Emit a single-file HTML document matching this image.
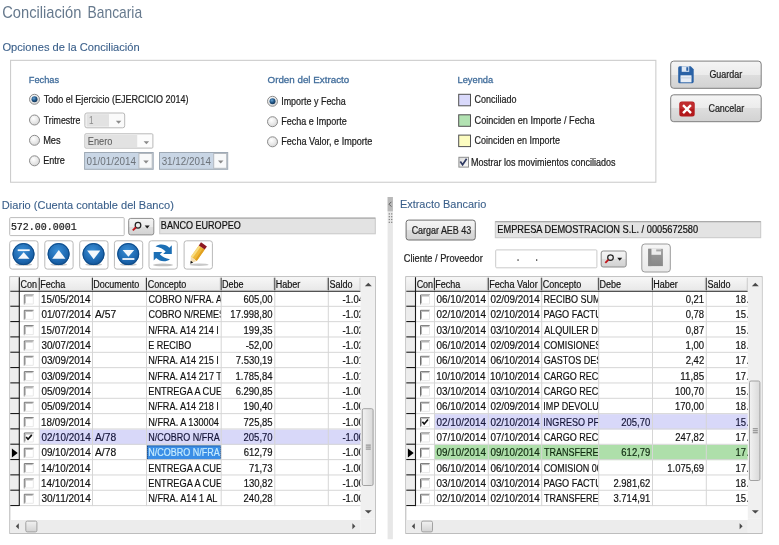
<!DOCTYPE html>
<html><head><meta charset="utf-8"><title>Conciliación Bancaria</title>
<style>html,body{margin:0;padding:0;background:#fff;width:779px;height:545px;overflow:hidden}svg{display:block;will-change:transform;font-family:"Liberation Sans",sans-serif}</style></head><body>
<svg width="779" height="545" viewBox="0 0 779 545">
<defs>
<radialGradient id="rg" cx="0.4" cy="0.35" r="0.75"><stop offset="0" stop-color="#ffffff"/><stop offset="0.6" stop-color="#e6e6e6"/><stop offset="1" stop-color="#cfcfcf"/></radialGradient>
<radialGradient id="rs" cx="0.4" cy="0.35" r="0.7"><stop offset="0" stop-color="#6aa6d6"/><stop offset="0.5" stop-color="#23598a"/><stop offset="1" stop-color="#10304f"/></radialGradient>
<linearGradient id="cg" x1="0" y1="0" x2="1" y2="1"><stop offset="0" stop-color="#dcdcdc"/><stop offset="1" stop-color="#fbfbfb"/></linearGradient>
<linearGradient id="bg" x1="0" y1="0" x2="0" y2="1"><stop offset="0" stop-color="#f5f5f5"/><stop offset="0.5" stop-color="#ebebeb"/><stop offset="0.5" stop-color="#dedede"/><stop offset="1" stop-color="#d2d2d2"/></linearGradient>
<linearGradient id="bg2" x1="0" y1="0" x2="0" y2="1"><stop offset="0" stop-color="#f6f6f6"/><stop offset="1" stop-color="#e9e9e9"/></linearGradient>
<linearGradient id="hg" x1="0" y1="0" x2="0" y2="1"><stop offset="0" stop-color="#f7f7f7"/><stop offset="1" stop-color="#e8e8e8"/></linearGradient>
<linearGradient id="tg" x1="0" y1="0" x2="1" y2="0"><stop offset="0" stop-color="#f2f2f2"/><stop offset="1" stop-color="#d9d9d9"/></linearGradient>
<linearGradient id="tg2" x1="0" y1="0" x2="0" y2="1"><stop offset="0" stop-color="#f2f2f2"/><stop offset="1" stop-color="#d2d2d2"/></linearGradient>
<radialGradient id="nb" cx="0.45" cy="0.35" r="0.7"><stop offset="0" stop-color="#3a8fd6"/><stop offset="0.7" stop-color="#1b65ad"/><stop offset="1" stop-color="#114f8e"/></radialGradient>
<linearGradient id="fg" x1="0" y1="0" x2="0" y2="1"><stop offset="0" stop-color="#9c9c9c"/><stop offset="1" stop-color="#888888"/></linearGradient>
</defs>
<rect x="0" y="0" width="779" height="545" fill="#ffffff"/>
<text x="2.25" y="18.00" font-family="'Liberation Sans', sans-serif" font-size="15.99" fill="#66798d" textLength="79.20" lengthAdjust="spacingAndGlyphs">Conciliación</text>
<text x="87.57" y="18.00" font-family="'Liberation Sans', sans-serif" font-size="15.99" fill="#66798d" textLength="54.53" lengthAdjust="spacingAndGlyphs">Bancaria</text>
<text x="2.47" y="50.70" font-family="'Liberation Sans', sans-serif" font-size="10.76" fill="#3a5f8a" stroke="#3a5f8a" stroke-width="0.1" textLength="137.25" lengthAdjust="spacingAndGlyphs">Opciones de la Conciliación</text>
<rect x="10.55" y="60.35" width="645.30" height="121.90" fill="none" stroke="#cdcdcd" stroke-width="1.1"/>
<text x="28.84" y="83.00" font-family="'Liberation Sans', sans-serif" font-size="9.74" fill="#416d9b" stroke="#416d9b" stroke-width="0.3" textLength="30.29" lengthAdjust="spacingAndGlyphs">Fechas</text>
<circle cx="34.5" cy="99.3" r="5.0" fill="url(#rg)" stroke="#8d8d8d" stroke-width="1"/>
<circle cx="34.5" cy="99.3" r="3.0" fill="url(#rs)"/>
<circle cx="34.5" cy="120.0" r="5.0" fill="url(#rg)" stroke="#8d8d8d" stroke-width="1"/>
<circle cx="34.5" cy="140.3" r="5.0" fill="url(#rg)" stroke="#8d8d8d" stroke-width="1"/>
<circle cx="34.5" cy="160.8" r="5.0" fill="url(#rg)" stroke="#8d8d8d" stroke-width="1"/>
<text x="43.80" y="102.80" font-family="'Liberation Sans', sans-serif" font-size="10.90" fill="#1c1c1c" stroke="#1c1c1c" stroke-width="0.22" textLength="144.76" lengthAdjust="spacingAndGlyphs">Todo el Ejercicio (EJERCICIO 2014)</text>
<text x="43.70" y="123.50" font-family="'Liberation Sans', sans-serif" font-size="10.76" fill="#1c1c1c" stroke="#1c1c1c" stroke-width="0.22" textLength="36.68" lengthAdjust="spacingAndGlyphs">Trimestre</text>
<text x="43.14" y="143.60" font-family="'Liberation Sans', sans-serif" font-size="10.76" fill="#1c1c1c" stroke="#1c1c1c" stroke-width="0.22" textLength="17.49" lengthAdjust="spacingAndGlyphs">Mes</text>
<text x="43.15" y="163.80" font-family="'Liberation Sans', sans-serif" font-size="10.76" fill="#1c1c1c" stroke="#1c1c1c" stroke-width="0.22" textLength="21.75" lengthAdjust="spacingAndGlyphs">Entre</text>
<rect x="84.90" y="113.00" width="39.80" height="14.80" fill="#fafafa" stroke="#b8b8b8" stroke-width="1" rx="2"/>
<rect x="86.50" y="114.20" width="22.50" height="12.40" fill="#e2e2e2"/>
<text x="88.88" y="124.30" font-family="'Liberation Sans', sans-serif" font-size="11.05" fill="#8a8a8a" textLength="4.51" lengthAdjust="spacingAndGlyphs">1</text>
<path d="M115.85 120.70 L121.35 120.70 L118.60 123.70 Z" fill="#8a8a8a"/>
<rect x="84.90" y="133.80" width="68.00" height="14.30" fill="#fcfcfc" stroke="#b8b8b8" stroke-width="1" rx="1"/>
<rect x="86.00" y="135.00" width="51.20" height="12.00" fill="#e2e2e2"/>
<text x="87.74" y="144.60" font-family="'Liberation Sans', sans-serif" font-size="11.05" fill="#606060" stroke="#606060" stroke-width="0.1" textLength="24.65" lengthAdjust="spacingAndGlyphs">Enero</text>
<path d="M143.65 141.30 L149.15 141.30 L146.40 144.30 Z" fill="#8a8a8a"/>
<rect x="84.60" y="152.50" width="68.60" height="16.80" fill="#c9d6e5" stroke="#9ea9b5" stroke-width="1"/>
<rect x="138.90" y="153.50" width="13.30" height="14.80" fill="#f8f9fa" stroke="#b4b9bf" stroke-width="1"/>
<text x="86.61" y="164.80" font-family="'Liberation Sans', sans-serif" font-size="11.05" fill="#6c7279" textLength="49.48" lengthAdjust="spacingAndGlyphs">01/01/2014</text>
<path d="M143.30 160.50 L148.80 160.50 L146.05 163.50 Z" fill="#8a8a8a"/>
<rect x="159.50" y="152.50" width="68.20" height="16.80" fill="#c9d6e5" stroke="#9ea9b5" stroke-width="1"/>
<rect x="213.70" y="153.50" width="13.00" height="14.80" fill="#f8f9fa" stroke="#b4b9bf" stroke-width="1"/>
<text x="161.63" y="164.80" font-family="'Liberation Sans', sans-serif" font-size="11.05" fill="#6c7279" textLength="49.26" lengthAdjust="spacingAndGlyphs">31/12/2014</text>
<path d="M217.95 160.50 L223.45 160.50 L220.70 163.50 Z" fill="#8a8a8a"/>
<text x="267.54" y="82.70" font-family="'Liberation Sans', sans-serif" font-size="9.74" fill="#416d9b" stroke="#416d9b" stroke-width="0.3" textLength="81.68" lengthAdjust="spacingAndGlyphs">Orden del Extracto</text>
<circle cx="272.5" cy="101.3" r="5.0" fill="url(#rg)" stroke="#8d8d8d" stroke-width="1"/>
<circle cx="272.5" cy="101.3" r="3.0" fill="url(#rs)"/>
<circle cx="272.5" cy="121.7" r="5.0" fill="url(#rg)" stroke="#8d8d8d" stroke-width="1"/>
<circle cx="272.5" cy="141.8" r="5.0" fill="url(#rg)" stroke="#8d8d8d" stroke-width="1"/>
<text x="281.17" y="104.80" font-family="'Liberation Sans', sans-serif" font-size="10.76" fill="#1c1c1c" stroke="#1c1c1c" stroke-width="0.22" textLength="64.63" lengthAdjust="spacingAndGlyphs">Importe y Fecha</text>
<text x="281.26" y="124.80" font-family="'Liberation Sans', sans-serif" font-size="10.76" fill="#1c1c1c" stroke="#1c1c1c" stroke-width="0.22" textLength="65.64" lengthAdjust="spacingAndGlyphs">Fecha e Importe</text>
<text x="281.27" y="145.40" font-family="'Liberation Sans', sans-serif" font-size="10.76" fill="#1c1c1c" stroke="#1c1c1c" stroke-width="0.22" textLength="91.13" lengthAdjust="spacingAndGlyphs">Fecha Valor, e Importe</text>
<text x="457.54" y="82.80" font-family="'Liberation Sans', sans-serif" font-size="9.74" fill="#416d9b" stroke="#416d9b" stroke-width="0.3" textLength="35.66" lengthAdjust="spacingAndGlyphs">Leyenda</text>
<rect x="458.70" y="94.30" width="11.80" height="11.50" fill="#d9d9fb" stroke="#505050" stroke-width="1"/>
<rect x="458.70" y="114.80" width="11.80" height="11.50" fill="#b2e2b2" stroke="#505050" stroke-width="1"/>
<rect x="458.70" y="135.10" width="11.80" height="11.50" fill="#fcfcc0" stroke="#505050" stroke-width="1"/>
<text x="474.54" y="102.80" font-family="'Liberation Sans', sans-serif" font-size="10.76" fill="#1c1c1c" stroke="#1c1c1c" stroke-width="0.22" textLength="41.93" lengthAdjust="spacingAndGlyphs">Conciliado</text>
<text x="474.54" y="123.50" font-family="'Liberation Sans', sans-serif" font-size="10.76" fill="#1c1c1c" stroke="#1c1c1c" stroke-width="0.22" textLength="119.96" lengthAdjust="spacingAndGlyphs">Coinciden en Importe / Fecha</text>
<text x="474.54" y="143.50" font-family="'Liberation Sans', sans-serif" font-size="10.76" fill="#1c1c1c" stroke="#1c1c1c" stroke-width="0.22" textLength="85.46" lengthAdjust="spacingAndGlyphs">Coinciden en Importe</text>
<rect x="458.90" y="157.30" width="9.60" height="9.80" fill="url(#cg)" stroke="#8e8f8f" stroke-width="1"/>
<path d="M460.3 161.4 L462.6 164.8 L466.6 158.8" fill="none" stroke="#2f3a62" stroke-width="1.7"/>
<text x="471.06" y="165.70" font-family="'Liberation Sans', sans-serif" font-size="10.17" fill="#1c1c1c" stroke="#1c1c1c" stroke-width="0.22" textLength="144.56" lengthAdjust="spacingAndGlyphs">Mostrar los movimientos conciliados</text>
<rect x="670.70" y="61.10" width="90.50" height="27.20" fill="url(#bg)" stroke="#7e7e7e" stroke-width="1" rx="3"/>
<rect x="670.70" y="94.80" width="90.50" height="26.90" fill="url(#bg)" stroke="#7e7e7e" stroke-width="1" rx="3"/>
<g transform="translate(677.7,66.3)"><path d="M0.5 1.5 Q0.5 0 2 0 L13 0 L16 3 L16 15 Q16 17 14.5 17 L2 17 Q0.5 17 0.5 15.5 Z" fill="#2a62a6"/><rect x="4" y="0" width="7.5" height="5.5" fill="#dfe9f5"/><rect x="8.6" y="0.9" width="2" height="3.6" fill="#2a62a6"/><rect x="2.8" y="9" width="11" height="7" fill="#e8eef6"/><rect x="2.8" y="11.2" width="11" height="0.8" fill="#b9c8d8"/></g>
<text x="709.45" y="78.30" font-family="'Liberation Sans', sans-serif" font-size="10.17" fill="#1e1e1e" stroke="#1e1e1e" stroke-width="0.22" textLength="32.70" lengthAdjust="spacingAndGlyphs">Guardar</text>
<g transform="translate(679.3,101.6)"><rect x="0" y="0" width="15.4" height="15" rx="2.5" fill="#b3191c"/><rect x="0.5" y="0.5" width="14.4" height="7" rx="2" fill="#c8383a" opacity="0.6"/><path d="M4.6 4.4 L10.8 10.6 M10.8 4.4 L4.6 10.6" stroke="#ffffff" stroke-width="2.4" stroke-linecap="square"/></g>
<text x="708.45" y="112.00" font-family="'Liberation Sans', sans-serif" font-size="10.17" fill="#1e1e1e" stroke="#1e1e1e" stroke-width="0.22" textLength="35.70" lengthAdjust="spacingAndGlyphs">Cancelar</text>
<text x="1.89" y="208.60" font-family="'Liberation Sans', sans-serif" font-size="10.90" fill="#3a5f8a" stroke="#3a5f8a" stroke-width="0.1" textLength="171.99" lengthAdjust="spacingAndGlyphs">Diario (Cuenta contable del Banco)</text>
<rect x="9.70" y="217.60" width="114.50" height="18.00" fill="#ffffff" stroke="#bcbcbc" stroke-width="1" rx="1"/>
<text x="10.88" y="230.00" font-family="'Liberation Mono', monospace" font-size="10.48" fill="#1a1a1a" stroke="#1a1a1a" stroke-width="0.22" textLength="65.80" lengthAdjust="spacingAndGlyphs">572.00.0001</text>
<rect x="128.70" y="218.40" width="25.10" height="16.50" fill="url(#bg)" stroke="#8c8c8c" stroke-width="1" rx="2"/>
<circle cx="138.00" cy="225.25" r="2.8" fill="none" stroke="#222" stroke-width="1.25"/>
<path d="M136.00 227.25 L132.80 230.45" stroke="#c0141b" stroke-width="1.9"/>
<path d="M144.70 225.45 L149.70 225.45 L147.20 228.45 Z" fill="#1a1a1a"/>
<rect x="159.70" y="218.10" width="215.60" height="15.70" fill="#e3e3e3" stroke="#c8c8c8" stroke-width="1"/>
<line x1="159.70" y1="218.10" x2="375.30" y2="218.10" stroke="#a2a2a2" stroke-width="1"/>
<text x="160.86" y="228.50" font-family="'Liberation Sans', sans-serif" font-size="10.47" fill="#111111" stroke="#111111" stroke-width="0.22" textLength="79.87" lengthAdjust="spacingAndGlyphs">BANCO EUROPEO</text>
<rect x="9.70" y="240.80" width="28.30" height="28.30" fill="#ffffff" stroke="#b9b9b9" stroke-width="1" rx="2.5"/>
<ellipse cx="23.70" cy="264.40" rx="8.5" ry="1.4" fill="#9a9a9a" opacity="0.55"/>
<circle cx="23.50" cy="254.10" r="11.0" fill="url(#nb)"/>
<circle cx="23.50" cy="254.10" r="10.5" fill="none" stroke="#0e4a86" stroke-width="1"/>
<path d="M17.90 258.70 L29.50 258.70 L23.70 252.30 Z" fill="#f4f8fc"/>
<rect x="17.70" y="249.30" width="12" height="1.8" fill="#f4f8fc"/>
<rect x="44.80" y="240.80" width="28.30" height="28.30" fill="#ffffff" stroke="#b9b9b9" stroke-width="1" rx="2.5"/>
<ellipse cx="58.80" cy="264.40" rx="8.5" ry="1.4" fill="#9a9a9a" opacity="0.55"/>
<circle cx="58.60" cy="254.10" r="11.0" fill="url(#nb)"/>
<circle cx="58.60" cy="254.10" r="10.5" fill="none" stroke="#0e4a86" stroke-width="1"/>
<path d="M52.20 258.70 L65.40 258.70 L58.80 249.90 Z" fill="#f4f8fc"/>
<rect x="79.70" y="240.80" width="28.30" height="28.30" fill="#ffffff" stroke="#b9b9b9" stroke-width="1" rx="2.5"/>
<ellipse cx="93.70" cy="264.40" rx="8.5" ry="1.4" fill="#9a9a9a" opacity="0.55"/>
<circle cx="93.50" cy="254.10" r="11.0" fill="url(#nb)"/>
<circle cx="93.50" cy="254.10" r="10.5" fill="none" stroke="#0e4a86" stroke-width="1"/>
<path d="M87.10 250.50 L100.30 250.50 L93.70 259.30 Z" fill="#f4f8fc"/>
<rect x="114.40" y="240.80" width="28.30" height="28.30" fill="#ffffff" stroke="#b9b9b9" stroke-width="1" rx="2.5"/>
<ellipse cx="128.40" cy="264.40" rx="8.5" ry="1.4" fill="#9a9a9a" opacity="0.55"/>
<circle cx="128.20" cy="254.10" r="11.0" fill="url(#nb)"/>
<circle cx="128.20" cy="254.10" r="10.5" fill="none" stroke="#0e4a86" stroke-width="1"/>
<path d="M122.60 250.10 L134.20 250.10 L128.40 256.70 Z" fill="#f4f8fc"/>
<rect x="122.40" y="258.10" width="12" height="1.8" fill="#f4f8fc"/>
<rect x="149.00" y="240.80" width="28.30" height="28.30" fill="#ffffff" stroke="#b9b9b9" stroke-width="1" rx="2.5"/>
<ellipse cx="163.00" cy="264.90" rx="10" ry="1.4" fill="#9a9a9a" opacity="0.6"/>
<g transform="translate(162.75,252.9)" fill="#1c6fb5"><path d="M -7.2 -6.4 C -3 -9.6, 3 -8.8, 6.6 -5.2 L 9.05 -7.6 L 9.05 1.0 L 0.45 1.0 L 2.9 -1.4 C 0.5 -4.0, -3 -5.6, -7.2 -6.4 Z"/><path d="M -7.2 -6.4 C -3 -9.6, 3 -8.8, 6.6 -5.2 L 9.05 -7.6 L 9.05 1.0 L 0.45 1.0 L 2.9 -1.4 C 0.5 -4.0, -3 -5.6, -7.2 -6.4 Z" transform="rotate(180)"/></g>
<rect x="184.10" y="240.80" width="28.30" height="28.30" fill="#ffffff" stroke="#b9b9b9" stroke-width="1" rx="2.5"/>
<ellipse cx="199.10" cy="264.70" rx="9.5" ry="1.3" fill="#9a9a9a" opacity="0.55"/>
<g transform="translate(197.2,254.0) rotate(35)"><rect x="-3.6" y="-8" width="7.2" height="14" fill="#efb93a"/><rect x="-3.6" y="-8" width="2.2" height="14" fill="#f8dc80"/><rect x="1.6" y="-8" width="2" height="14" fill="#e0a020"/><rect x="-3.6" y="-11.8" width="7.2" height="3.8" fill="#8e1822"/><path d="M-3.6 6 L3.6 6 L0 11.6 Z" fill="#f3dcb0"/><path d="M-1.5 9.2 L1.5 9.2 L0 11.9 Z" fill="#111"/></g>
<rect x="387.60" y="197.00" width="5.30" height="342.20" fill="#e7e7e7"/>
<rect x="387.60" y="197.00" width="5.30" height="14.30" fill="#b9b9b9"/>
<path d="M391.4 201.8 L389.0 204.2 L391.4 206.6" fill="none" stroke="#555" stroke-width="0.9"/>
<rect x="388.70" y="213.30" width="1.20" height="1.20" fill="#7a7a7a"/>
<rect x="391.10" y="213.30" width="1.20" height="1.20" fill="#7a7a7a"/>
<rect x="388.70" y="216.10" width="1.20" height="1.20" fill="#7a7a7a"/>
<rect x="391.10" y="216.10" width="1.20" height="1.20" fill="#7a7a7a"/>
<rect x="388.70" y="218.90" width="1.20" height="1.20" fill="#7a7a7a"/>
<rect x="391.10" y="218.90" width="1.20" height="1.20" fill="#7a7a7a"/>
<rect x="388.70" y="221.70" width="1.20" height="1.20" fill="#7a7a7a"/>
<rect x="391.10" y="221.70" width="1.20" height="1.20" fill="#7a7a7a"/>
<text x="399.90" y="208.40" font-family="'Liberation Sans', sans-serif" font-size="10.90" fill="#3a5f8a" stroke="#3a5f8a" stroke-width="0.1" textLength="86.36" lengthAdjust="spacingAndGlyphs">Extracto Bancario</text>
<rect x="406.10" y="220.10" width="69.20" height="19.90" fill="url(#bg)" stroke="#6e6e6e" stroke-width="1" rx="2.5"/>
<text x="411.65" y="233.50" font-family="'Liberation Sans', sans-serif" font-size="10.03" fill="#1e1e1e" stroke="#1e1e1e" stroke-width="0.22" textLength="59.54" lengthAdjust="spacingAndGlyphs">Cargar AEB 43</text>
<rect x="495.30" y="221.70" width="265.40" height="16.00" fill="#e3e3e3" stroke="#c8c8c8" stroke-width="1"/>
<text x="497.34" y="232.90" font-family="'Liberation Sans', sans-serif" font-size="10.90" fill="#111111" stroke="#111111" stroke-width="0.22" textLength="200.82" lengthAdjust="spacingAndGlyphs">EMPRESA DEMOSTRACION S.L. / 0005672580</text>
<line x1="495.30" y1="221.70" x2="760.70" y2="221.70" stroke="#a2a2a2" stroke-width="1"/>
<text x="403.73" y="262.20" font-family="'Liberation Sans', sans-serif" font-size="10.47" fill="#1e1e1e" stroke="#1e1e1e" stroke-width="0.22" textLength="79.12" lengthAdjust="spacingAndGlyphs">Cliente / Proveedor</text>
<rect x="495.70" y="249.90" width="101.20" height="17.90" fill="#ffffff" stroke="#cacaca" stroke-width="1" rx="1"/>
<rect x="517.40" y="259.40" width="1.30" height="1.30" fill="#222"/>
<rect x="536.00" y="259.40" width="1.30" height="1.30" fill="#222"/>
<rect x="601.20" y="251.00" width="25.00" height="16.00" fill="url(#bg)" stroke="#8c8c8c" stroke-width="1" rx="2"/>
<circle cx="610.50" cy="257.60" r="2.8" fill="none" stroke="#222" stroke-width="1.25"/>
<path d="M608.50 259.60 L605.30 262.80" stroke="#c0141b" stroke-width="1.9"/>
<path d="M617.20 257.80 L622.20 257.80 L619.70 260.80 Z" fill="#1a1a1a"/>
<rect x="641.80" y="244.00" width="28.50" height="28.00" fill="url(#bg2)" stroke="#9a9a9a" stroke-width="1" rx="3"/>
<rect x="648.2" y="248.8" width="14.7" height="17.3" fill="url(#fg)"/>
<rect x="648.2" y="248.8" width="3.2" height="17.3" fill="#8a8a8a"/>
<rect x="651.5" y="248.8" width="9.6" height="6" fill="#ececec"/>
<rect x="656.2" y="249.4" width="5" height="2" fill="#a8a8a8"/>
<rect x="9.80" y="276.70" width="365.50" height="256.70" fill="#ffffff" stroke="#b6b6b6" stroke-width="1"/>
<rect x="10.30" y="277.20" width="350.30" height="13.40" fill="url(#hg)"/>
<rect x="10.30" y="290.60" width="9.00" height="215.52" fill="#ededed"/>
<rect x="39.30" y="429.47" width="321.30" height="15.33" fill="#d8d8f9"/>
<rect x="147.00" y="445.40" width="74.00" height="14.53" fill="#3a8ee6"/>
<rect x="147.50" y="445.90" width="73.10" height="13.63" fill="none" stroke="#102040" stroke-width="0.8" stroke-dasharray="1,1"/>
<line x1="19.30" y1="306.33" x2="360.60" y2="306.33" stroke="#d6d6d6" stroke-width="1"/>
<line x1="19.30" y1="321.66" x2="360.60" y2="321.66" stroke="#d6d6d6" stroke-width="1"/>
<line x1="19.30" y1="336.99" x2="360.60" y2="336.99" stroke="#d6d6d6" stroke-width="1"/>
<line x1="19.30" y1="352.32" x2="360.60" y2="352.32" stroke="#d6d6d6" stroke-width="1"/>
<line x1="19.30" y1="367.65" x2="360.60" y2="367.65" stroke="#d6d6d6" stroke-width="1"/>
<line x1="19.30" y1="382.98" x2="360.60" y2="382.98" stroke="#d6d6d6" stroke-width="1"/>
<line x1="19.30" y1="398.31" x2="360.60" y2="398.31" stroke="#d6d6d6" stroke-width="1"/>
<line x1="19.30" y1="413.64" x2="360.60" y2="413.64" stroke="#d6d6d6" stroke-width="1"/>
<line x1="19.30" y1="428.97" x2="360.60" y2="428.97" stroke="#d6d6d6" stroke-width="1"/>
<line x1="19.30" y1="444.30" x2="360.60" y2="444.30" stroke="#d6d6d6" stroke-width="1"/>
<line x1="19.30" y1="459.63" x2="360.60" y2="459.63" stroke="#d6d6d6" stroke-width="1"/>
<line x1="19.30" y1="474.96" x2="360.60" y2="474.96" stroke="#d6d6d6" stroke-width="1"/>
<line x1="19.30" y1="490.29" x2="360.60" y2="490.29" stroke="#d6d6d6" stroke-width="1"/>
<line x1="19.30" y1="505.62" x2="360.60" y2="505.62" stroke="#d6d6d6" stroke-width="1"/>
<line x1="39.30" y1="291.00" x2="39.30" y2="506.12" stroke="#d6d6d6" stroke-width="1"/>
<line x1="92.50" y1="291.00" x2="92.50" y2="506.12" stroke="#d6d6d6" stroke-width="1"/>
<line x1="146.50" y1="291.00" x2="146.50" y2="506.12" stroke="#d6d6d6" stroke-width="1"/>
<line x1="221.20" y1="291.00" x2="221.20" y2="506.12" stroke="#d6d6d6" stroke-width="1"/>
<line x1="274.80" y1="291.00" x2="274.80" y2="506.12" stroke="#d6d6d6" stroke-width="1"/>
<line x1="328.30" y1="291.00" x2="328.30" y2="506.12" stroke="#d6d6d6" stroke-width="1"/>
<line x1="10.30" y1="306.23" x2="19.30" y2="306.23" stroke="#1a1a1a" stroke-width="1.1"/>
<line x1="10.30" y1="321.56" x2="19.30" y2="321.56" stroke="#1a1a1a" stroke-width="1.1"/>
<line x1="10.30" y1="336.89" x2="19.30" y2="336.89" stroke="#1a1a1a" stroke-width="1.1"/>
<line x1="10.30" y1="352.22" x2="19.30" y2="352.22" stroke="#1a1a1a" stroke-width="1.1"/>
<line x1="10.30" y1="367.55" x2="19.30" y2="367.55" stroke="#1a1a1a" stroke-width="1.1"/>
<line x1="10.30" y1="382.88" x2="19.30" y2="382.88" stroke="#1a1a1a" stroke-width="1.1"/>
<line x1="10.30" y1="398.21" x2="19.30" y2="398.21" stroke="#1a1a1a" stroke-width="1.1"/>
<line x1="10.30" y1="413.54" x2="19.30" y2="413.54" stroke="#1a1a1a" stroke-width="1.1"/>
<line x1="10.30" y1="428.87" x2="19.30" y2="428.87" stroke="#1a1a1a" stroke-width="1.1"/>
<line x1="10.30" y1="444.20" x2="19.30" y2="444.20" stroke="#1a1a1a" stroke-width="1.1"/>
<line x1="10.30" y1="459.53" x2="19.30" y2="459.53" stroke="#1a1a1a" stroke-width="1.1"/>
<line x1="10.30" y1="474.86" x2="19.30" y2="474.86" stroke="#1a1a1a" stroke-width="1.1"/>
<line x1="10.30" y1="490.19" x2="19.30" y2="490.19" stroke="#1a1a1a" stroke-width="1.1"/>
<line x1="10.30" y1="505.52" x2="19.30" y2="505.52" stroke="#1a1a1a" stroke-width="1.1"/>
<line x1="19.30" y1="277.20" x2="19.30" y2="506.12" stroke="#1a1a1a" stroke-width="1.1"/>
<line x1="10.30" y1="291.20" x2="360.60" y2="291.20" stroke="#1a1a1a" stroke-width="1.1"/>
<line x1="360.10" y1="277.70" x2="360.10" y2="290.60" stroke="#c4c4c4" stroke-width="1"/>
<line x1="38.30" y1="277.70" x2="38.30" y2="290.30" stroke="#cfcfcf" stroke-width="1"/>
<line x1="39.30" y1="277.70" x2="39.30" y2="290.30" stroke="#3a3a3a" stroke-width="1"/>
<line x1="91.50" y1="277.70" x2="91.50" y2="290.30" stroke="#cfcfcf" stroke-width="1"/>
<line x1="92.50" y1="277.70" x2="92.50" y2="290.30" stroke="#3a3a3a" stroke-width="1"/>
<line x1="145.50" y1="277.70" x2="145.50" y2="290.30" stroke="#cfcfcf" stroke-width="1"/>
<line x1="146.50" y1="277.70" x2="146.50" y2="290.30" stroke="#3a3a3a" stroke-width="1"/>
<line x1="220.20" y1="277.70" x2="220.20" y2="290.30" stroke="#cfcfcf" stroke-width="1"/>
<line x1="221.20" y1="277.70" x2="221.20" y2="290.30" stroke="#3a3a3a" stroke-width="1"/>
<line x1="273.80" y1="277.70" x2="273.80" y2="290.30" stroke="#cfcfcf" stroke-width="1"/>
<line x1="274.80" y1="277.70" x2="274.80" y2="290.30" stroke="#3a3a3a" stroke-width="1"/>
<line x1="327.30" y1="277.70" x2="327.30" y2="290.30" stroke="#cfcfcf" stroke-width="1"/>
<line x1="328.30" y1="277.70" x2="328.30" y2="290.30" stroke="#3a3a3a" stroke-width="1"/>
<text x="20.44" y="287.80" font-size="10.00" fill="#111111" stroke="#111111" stroke-width="0.18" textLength="16.51" lengthAdjust="spacingAndGlyphs">Con</text>
<text x="40.16" y="287.80" font-size="10.00" fill="#111111" stroke="#111111" stroke-width="0.18" textLength="25.01" lengthAdjust="spacingAndGlyphs">Fecha</text>
<text x="93.36" y="287.80" font-size="10.00" fill="#111111" stroke="#111111" stroke-width="0.18" textLength="46.02" lengthAdjust="spacingAndGlyphs">Documento</text>
<text x="147.64" y="287.80" font-size="10.00" fill="#111111" stroke="#111111" stroke-width="0.18" textLength="38.53" lengthAdjust="spacingAndGlyphs">Concepto</text>
<text x="222.06" y="287.80" font-size="10.00" fill="#111111" stroke="#111111" stroke-width="0.18" textLength="21.52" lengthAdjust="spacingAndGlyphs">Debe</text>
<text x="275.66" y="287.80" font-size="10.00" fill="#111111" stroke="#111111" stroke-width="0.18" textLength="24.51" lengthAdjust="spacingAndGlyphs">Haber</text>
<text x="329.49" y="287.80" font-size="10.00" fill="#111111" stroke="#111111" stroke-width="0.18" textLength="23.02" lengthAdjust="spacingAndGlyphs">Saldo</text>
<path d="M11.90 448.40 L17.70 452.90 L11.90 457.40 Z" fill="#000"/>
<clipPath id="glcl"><rect x="9.3" y="276.2" width="351.30" height="257.7"/></clipPath>
<rect x="23.80" y="294.50" width="10.00" height="10.00" fill="#ffffff"/>
<path d="M24.30 304.50 L24.30 295.00 L33.80 295.00" fill="none" stroke="#6e6e6e" stroke-width="1"/>
<path d="M25.30 303.50 L25.30 296.00 L32.80 296.00" fill="none" stroke="#b4b4b4" stroke-width="1"/>
<path d="M24.30 304.00 L33.30 304.00 L33.30 295.00" fill="none" stroke="#e8e8e8" stroke-width="1"/>
<clipPath id="glc0_0"><rect x="39.30" y="291.50" width="52.60" height="15.33"/></clipPath>
<g clip-path="url(#glc0_0)">
<text x="41.05" y="303.00" font-size="10.60" fill="#111111" stroke="#111111" stroke-width="0.18" textLength="49.34" lengthAdjust="spacingAndGlyphs">15/05/2014</text>
</g>
<clipPath id="glc0_2"><rect x="146.50" y="291.50" width="74.10" height="15.33"/></clipPath>
<g clip-path="url(#glc0_2)">
<text x="148.54" y="303.00" font-size="10.60" fill="#111111" stroke="#111111" stroke-width="0.18" textLength="83.61" lengthAdjust="spacingAndGlyphs">COBRO N/FRA. A14</text>
</g>
<clipPath id="glc0_3"><rect x="221.20" y="291.50" width="53.00" height="15.33"/></clipPath>
<g clip-path="url(#glc0_3)">
<text x="243.55" y="303.00" font-size="10.60" fill="#111111" stroke="#111111" stroke-width="0.18" textLength="29.02" lengthAdjust="spacingAndGlyphs">605,00</text>
</g>
<g clip-path="url(#glcl)">
<text x="342.38" y="303.00" font-size="10.60" fill="#111111" stroke="#111111" stroke-width="0.18" textLength="26.90" lengthAdjust="spacingAndGlyphs">-1.048</text>
</g>
<rect x="23.80" y="309.83" width="10.00" height="10.00" fill="#ffffff"/>
<path d="M24.30 319.83 L24.30 310.33 L33.80 310.33" fill="none" stroke="#6e6e6e" stroke-width="1"/>
<path d="M25.30 318.83 L25.30 311.33 L32.80 311.33" fill="none" stroke="#b4b4b4" stroke-width="1"/>
<path d="M24.30 319.33 L33.30 319.33 L33.30 310.33" fill="none" stroke="#e8e8e8" stroke-width="1"/>
<clipPath id="glc1_0"><rect x="39.30" y="306.83" width="52.60" height="15.33"/></clipPath>
<g clip-path="url(#glc1_0)">
<text x="41.41" y="318.33" font-size="10.60" fill="#111111" stroke="#111111" stroke-width="0.18" textLength="49.34" lengthAdjust="spacingAndGlyphs">01/07/2014</text>
</g>
<clipPath id="glc1_1"><rect x="92.50" y="306.83" width="53.40" height="15.33"/></clipPath>
<g clip-path="url(#glc1_1)">
<text x="94.98" y="318.33" font-size="10.60" fill="#111111" stroke="#111111" stroke-width="0.18" textLength="21.15" lengthAdjust="spacingAndGlyphs">A/57</text>
</g>
<clipPath id="glc1_2"><rect x="146.50" y="306.83" width="74.10" height="15.33"/></clipPath>
<g clip-path="url(#glc1_2)">
<text x="148.54" y="318.33" font-size="10.60" fill="#111111" stroke="#111111" stroke-width="0.18" textLength="82.60" lengthAdjust="spacingAndGlyphs">COBRO N/REMESA</text>
</g>
<clipPath id="glc1_3"><rect x="221.20" y="306.83" width="53.00" height="15.33"/></clipPath>
<g clip-path="url(#glc1_3)">
<text x="230.37" y="318.33" font-size="10.60" fill="#111111" stroke="#111111" stroke-width="0.18" textLength="42.21" lengthAdjust="spacingAndGlyphs">17.998,80</text>
</g>
<g clip-path="url(#glcl)">
<text x="342.38" y="318.33" font-size="10.60" fill="#111111" stroke="#111111" stroke-width="0.18" textLength="26.90" lengthAdjust="spacingAndGlyphs">-1.024</text>
</g>
<rect x="23.80" y="325.16" width="10.00" height="10.00" fill="#ffffff"/>
<path d="M24.30 335.16 L24.30 325.66 L33.80 325.66" fill="none" stroke="#6e6e6e" stroke-width="1"/>
<path d="M25.30 334.16 L25.30 326.66 L32.80 326.66" fill="none" stroke="#b4b4b4" stroke-width="1"/>
<path d="M24.30 334.66 L33.30 334.66 L33.30 325.66" fill="none" stroke="#e8e8e8" stroke-width="1"/>
<clipPath id="glc2_0"><rect x="39.30" y="322.16" width="52.60" height="15.33"/></clipPath>
<g clip-path="url(#glc2_0)">
<text x="41.05" y="333.66" font-size="10.60" fill="#111111" stroke="#111111" stroke-width="0.18" textLength="49.34" lengthAdjust="spacingAndGlyphs">15/07/2014</text>
</g>
<clipPath id="glc2_2"><rect x="146.50" y="322.16" width="74.10" height="15.33"/></clipPath>
<g clip-path="url(#glc2_2)">
<text x="148.26" y="333.66" font-size="10.60" fill="#111111" stroke="#111111" stroke-width="0.18" textLength="70.61" lengthAdjust="spacingAndGlyphs">N/FRA. A14 214 I</text>
</g>
<clipPath id="glc2_3"><rect x="221.20" y="322.16" width="53.00" height="15.33"/></clipPath>
<g clip-path="url(#glc2_3)">
<text x="243.58" y="333.66" font-size="10.60" fill="#111111" stroke="#111111" stroke-width="0.18" textLength="29.02" lengthAdjust="spacingAndGlyphs">199,35</text>
</g>
<g clip-path="url(#glcl)">
<text x="342.38" y="333.66" font-size="10.60" fill="#111111" stroke="#111111" stroke-width="0.18" textLength="26.90" lengthAdjust="spacingAndGlyphs">-1.024</text>
</g>
<rect x="23.80" y="340.49" width="10.00" height="10.00" fill="#ffffff"/>
<path d="M24.30 350.49 L24.30 340.99 L33.80 340.99" fill="none" stroke="#6e6e6e" stroke-width="1"/>
<path d="M25.30 349.49 L25.30 341.99 L32.80 341.99" fill="none" stroke="#b4b4b4" stroke-width="1"/>
<path d="M24.30 349.99 L33.30 349.99 L33.30 340.99" fill="none" stroke="#e8e8e8" stroke-width="1"/>
<clipPath id="glc3_0"><rect x="39.30" y="337.49" width="52.60" height="15.33"/></clipPath>
<g clip-path="url(#glc3_0)">
<text x="41.42" y="348.99" font-size="10.60" fill="#111111" stroke="#111111" stroke-width="0.18" textLength="49.34" lengthAdjust="spacingAndGlyphs">30/07/2014</text>
</g>
<clipPath id="glc3_2"><rect x="146.50" y="337.49" width="74.10" height="15.33"/></clipPath>
<g clip-path="url(#glc3_2)">
<text x="148.26" y="348.99" font-size="10.60" fill="#111111" stroke="#111111" stroke-width="0.18" textLength="43.06" lengthAdjust="spacingAndGlyphs">E RECIBO</text>
</g>
<clipPath id="glc3_3"><rect x="221.20" y="337.49" width="53.00" height="15.33"/></clipPath>
<g clip-path="url(#glc3_3)">
<text x="245.67" y="348.99" font-size="10.60" fill="#111111" stroke="#111111" stroke-width="0.18" textLength="26.90" lengthAdjust="spacingAndGlyphs">-52,00</text>
</g>
<g clip-path="url(#glcl)">
<text x="342.38" y="348.99" font-size="10.60" fill="#111111" stroke="#111111" stroke-width="0.18" textLength="26.90" lengthAdjust="spacingAndGlyphs">-1.024</text>
</g>
<rect x="23.80" y="355.82" width="10.00" height="10.00" fill="#ffffff"/>
<path d="M24.30 365.82 L24.30 356.32 L33.80 356.32" fill="none" stroke="#6e6e6e" stroke-width="1"/>
<path d="M25.30 364.82 L25.30 357.32 L32.80 357.32" fill="none" stroke="#b4b4b4" stroke-width="1"/>
<path d="M24.30 365.32 L33.30 365.32 L33.30 356.32" fill="none" stroke="#e8e8e8" stroke-width="1"/>
<clipPath id="glc4_0"><rect x="39.30" y="352.82" width="52.60" height="15.33"/></clipPath>
<g clip-path="url(#glc4_0)">
<text x="41.41" y="364.32" font-size="10.60" fill="#111111" stroke="#111111" stroke-width="0.18" textLength="49.34" lengthAdjust="spacingAndGlyphs">03/09/2014</text>
</g>
<clipPath id="glc4_2"><rect x="146.50" y="352.82" width="74.10" height="15.33"/></clipPath>
<g clip-path="url(#glc4_2)">
<text x="148.26" y="364.32" font-size="10.60" fill="#111111" stroke="#111111" stroke-width="0.18" textLength="70.61" lengthAdjust="spacingAndGlyphs">N/FRA. A14 215 I</text>
</g>
<clipPath id="glc4_3"><rect x="221.20" y="352.82" width="53.00" height="15.33"/></clipPath>
<g clip-path="url(#glc4_3)">
<text x="235.72" y="364.32" font-size="10.60" fill="#111111" stroke="#111111" stroke-width="0.18" textLength="36.93" lengthAdjust="spacingAndGlyphs">7.530,19</text>
</g>
<g clip-path="url(#glcl)">
<text x="342.38" y="364.32" font-size="10.60" fill="#111111" stroke="#111111" stroke-width="0.18" textLength="26.90" lengthAdjust="spacingAndGlyphs">-1.017</text>
</g>
<rect x="23.80" y="371.15" width="10.00" height="10.00" fill="#ffffff"/>
<path d="M24.30 381.15 L24.30 371.65 L33.80 371.65" fill="none" stroke="#6e6e6e" stroke-width="1"/>
<path d="M25.30 380.15 L25.30 372.65 L32.80 372.65" fill="none" stroke="#b4b4b4" stroke-width="1"/>
<path d="M24.30 380.65 L33.30 380.65 L33.30 371.65" fill="none" stroke="#e8e8e8" stroke-width="1"/>
<clipPath id="glc5_0"><rect x="39.30" y="368.15" width="52.60" height="15.33"/></clipPath>
<g clip-path="url(#glc5_0)">
<text x="41.41" y="379.65" font-size="10.60" fill="#111111" stroke="#111111" stroke-width="0.18" textLength="49.34" lengthAdjust="spacingAndGlyphs">03/09/2014</text>
</g>
<clipPath id="glc5_2"><rect x="146.50" y="368.15" width="74.10" height="15.33"/></clipPath>
<g clip-path="url(#glc5_2)">
<text x="148.26" y="379.65" font-size="10.60" fill="#111111" stroke="#111111" stroke-width="0.18" textLength="73.61" lengthAdjust="spacingAndGlyphs">N/FRA. A14 217 T</text>
</g>
<clipPath id="glc5_3"><rect x="221.20" y="368.15" width="53.00" height="15.33"/></clipPath>
<g clip-path="url(#glc5_3)">
<text x="235.55" y="379.65" font-size="10.60" fill="#111111" stroke="#111111" stroke-width="0.18" textLength="36.93" lengthAdjust="spacingAndGlyphs">1.785,84</text>
</g>
<g clip-path="url(#glcl)">
<text x="342.38" y="379.65" font-size="10.60" fill="#111111" stroke="#111111" stroke-width="0.18" textLength="26.90" lengthAdjust="spacingAndGlyphs">-1.015</text>
</g>
<rect x="23.80" y="386.48" width="10.00" height="10.00" fill="#ffffff"/>
<path d="M24.30 396.48 L24.30 386.98 L33.80 386.98" fill="none" stroke="#6e6e6e" stroke-width="1"/>
<path d="M25.30 395.48 L25.30 387.98 L32.80 387.98" fill="none" stroke="#b4b4b4" stroke-width="1"/>
<path d="M24.30 395.98 L33.30 395.98 L33.30 386.98" fill="none" stroke="#e8e8e8" stroke-width="1"/>
<clipPath id="glc6_0"><rect x="39.30" y="383.48" width="52.60" height="15.33"/></clipPath>
<g clip-path="url(#glc6_0)">
<text x="41.41" y="394.98" font-size="10.60" fill="#111111" stroke="#111111" stroke-width="0.18" textLength="49.34" lengthAdjust="spacingAndGlyphs">05/09/2014</text>
</g>
<clipPath id="glc6_2"><rect x="146.50" y="383.48" width="74.10" height="15.33"/></clipPath>
<g clip-path="url(#glc6_2)">
<text x="148.26" y="394.98" font-size="10.60" fill="#111111" stroke="#111111" stroke-width="0.18" textLength="91.61" lengthAdjust="spacingAndGlyphs">ENTREGA A CUENTA</text>
</g>
<clipPath id="glc6_3"><rect x="221.20" y="383.48" width="53.00" height="15.33"/></clipPath>
<g clip-path="url(#glc6_3)">
<text x="235.67" y="394.98" font-size="10.60" fill="#111111" stroke="#111111" stroke-width="0.18" textLength="36.93" lengthAdjust="spacingAndGlyphs">6.290,85</text>
</g>
<g clip-path="url(#glcl)">
<text x="342.38" y="394.98" font-size="10.60" fill="#111111" stroke="#111111" stroke-width="0.18" textLength="26.90" lengthAdjust="spacingAndGlyphs">-1.009</text>
</g>
<rect x="23.80" y="401.81" width="10.00" height="10.00" fill="#ffffff"/>
<path d="M24.30 411.81 L24.30 402.31 L33.80 402.31" fill="none" stroke="#6e6e6e" stroke-width="1"/>
<path d="M25.30 410.81 L25.30 403.31 L32.80 403.31" fill="none" stroke="#b4b4b4" stroke-width="1"/>
<path d="M24.30 411.31 L33.30 411.31 L33.30 402.31" fill="none" stroke="#e8e8e8" stroke-width="1"/>
<clipPath id="glc7_0"><rect x="39.30" y="398.81" width="52.60" height="15.33"/></clipPath>
<g clip-path="url(#glc7_0)">
<text x="41.41" y="410.31" font-size="10.60" fill="#111111" stroke="#111111" stroke-width="0.18" textLength="49.34" lengthAdjust="spacingAndGlyphs">05/09/2014</text>
</g>
<clipPath id="glc7_2"><rect x="146.50" y="398.81" width="74.10" height="15.33"/></clipPath>
<g clip-path="url(#glc7_2)">
<text x="148.26" y="410.31" font-size="10.60" fill="#111111" stroke="#111111" stroke-width="0.18" textLength="70.61" lengthAdjust="spacingAndGlyphs">N/FRA. A14 218 I</text>
</g>
<clipPath id="glc7_3"><rect x="221.20" y="398.81" width="53.00" height="15.33"/></clipPath>
<g clip-path="url(#glc7_3)">
<text x="243.55" y="410.31" font-size="10.60" fill="#111111" stroke="#111111" stroke-width="0.18" textLength="29.02" lengthAdjust="spacingAndGlyphs">190,40</text>
</g>
<g clip-path="url(#glcl)">
<text x="342.38" y="410.31" font-size="10.60" fill="#111111" stroke="#111111" stroke-width="0.18" textLength="26.90" lengthAdjust="spacingAndGlyphs">-1.008</text>
</g>
<rect x="23.80" y="417.14" width="10.00" height="10.00" fill="#ffffff"/>
<path d="M24.30 427.14 L24.30 417.64 L33.80 417.64" fill="none" stroke="#6e6e6e" stroke-width="1"/>
<path d="M25.30 426.14 L25.30 418.64 L32.80 418.64" fill="none" stroke="#b4b4b4" stroke-width="1"/>
<path d="M24.30 426.64 L33.30 426.64 L33.30 417.64" fill="none" stroke="#e8e8e8" stroke-width="1"/>
<clipPath id="glc8_0"><rect x="39.30" y="414.14" width="52.60" height="15.33"/></clipPath>
<g clip-path="url(#glc8_0)">
<text x="41.05" y="425.64" font-size="10.60" fill="#111111" stroke="#111111" stroke-width="0.18" textLength="49.34" lengthAdjust="spacingAndGlyphs">18/09/2014</text>
</g>
<clipPath id="glc8_2"><rect x="146.50" y="414.14" width="74.10" height="15.33"/></clipPath>
<g clip-path="url(#glc8_2)">
<text x="148.26" y="425.64" font-size="10.60" fill="#111111" stroke="#111111" stroke-width="0.18" textLength="70.61" lengthAdjust="spacingAndGlyphs">N/FRA. A 130004</text>
</g>
<clipPath id="glc8_3"><rect x="221.20" y="414.14" width="53.00" height="15.33"/></clipPath>
<g clip-path="url(#glc8_3)">
<text x="243.58" y="425.64" font-size="10.60" fill="#111111" stroke="#111111" stroke-width="0.18" textLength="29.02" lengthAdjust="spacingAndGlyphs">725,85</text>
</g>
<g clip-path="url(#glcl)">
<text x="342.38" y="425.64" font-size="10.60" fill="#111111" stroke="#111111" stroke-width="0.18" textLength="26.90" lengthAdjust="spacingAndGlyphs">-1.008</text>
</g>
<rect x="23.80" y="432.47" width="10.00" height="10.00" fill="#ffffff"/>
<path d="M24.30 442.47 L24.30 432.97 L33.80 432.97" fill="none" stroke="#6e6e6e" stroke-width="1"/>
<path d="M25.30 441.47 L25.30 433.97 L32.80 433.97" fill="none" stroke="#b4b4b4" stroke-width="1"/>
<path d="M24.30 441.97 L33.30 441.97 L33.30 432.97" fill="none" stroke="#e8e8e8" stroke-width="1"/>
<path d="M26.20 437.07 L28.00 439.27 L31.80 434.87" fill="none" stroke="#111" stroke-width="1.6"/>
<clipPath id="glc9_0"><rect x="39.30" y="429.47" width="52.60" height="15.33"/></clipPath>
<g clip-path="url(#glc9_0)">
<text x="41.41" y="440.97" font-size="10.60" fill="#151538" stroke="#151538" stroke-width="0.18" textLength="49.34" lengthAdjust="spacingAndGlyphs">02/10/2014</text>
</g>
<clipPath id="glc9_1"><rect x="92.50" y="429.47" width="53.40" height="15.33"/></clipPath>
<g clip-path="url(#glc9_1)">
<text x="94.98" y="440.97" font-size="10.60" fill="#151538" stroke="#151538" stroke-width="0.18" textLength="21.15" lengthAdjust="spacingAndGlyphs">A/78</text>
</g>
<clipPath id="glc9_2"><rect x="146.50" y="429.47" width="74.10" height="15.33"/></clipPath>
<g clip-path="url(#glc9_2)">
<text x="148.26" y="440.97" font-size="10.60" fill="#151538" stroke="#151538" stroke-width="0.18" textLength="71.58" lengthAdjust="spacingAndGlyphs">N/COBRO N/FRA</text>
</g>
<clipPath id="glc9_3"><rect x="221.20" y="429.47" width="53.00" height="15.33"/></clipPath>
<g clip-path="url(#glc9_3)">
<text x="243.55" y="440.97" font-size="10.60" fill="#151538" stroke="#151538" stroke-width="0.18" textLength="29.02" lengthAdjust="spacingAndGlyphs">205,70</text>
</g>
<g clip-path="url(#glcl)">
<text x="342.38" y="440.97" font-size="10.60" fill="#151538" stroke="#151538" stroke-width="0.18" textLength="26.90" lengthAdjust="spacingAndGlyphs">-1.007</text>
</g>
<rect x="23.80" y="447.80" width="10.00" height="10.00" fill="#ffffff"/>
<path d="M24.30 457.80 L24.30 448.30 L33.80 448.30" fill="none" stroke="#6e6e6e" stroke-width="1"/>
<path d="M25.30 456.80 L25.30 449.30 L32.80 449.30" fill="none" stroke="#b4b4b4" stroke-width="1"/>
<path d="M24.30 457.30 L33.30 457.30 L33.30 448.30" fill="none" stroke="#e8e8e8" stroke-width="1"/>
<clipPath id="glc10_0"><rect x="39.30" y="444.80" width="52.60" height="15.33"/></clipPath>
<g clip-path="url(#glc10_0)">
<text x="41.41" y="456.30" font-size="10.60" fill="#111111" stroke="#111111" stroke-width="0.18" textLength="49.34" lengthAdjust="spacingAndGlyphs">09/10/2014</text>
</g>
<clipPath id="glc10_1"><rect x="92.50" y="444.80" width="53.40" height="15.33"/></clipPath>
<g clip-path="url(#glc10_1)">
<text x="94.98" y="456.30" font-size="10.60" fill="#111111" stroke="#111111" stroke-width="0.18" textLength="21.15" lengthAdjust="spacingAndGlyphs">A/78</text>
</g>
<clipPath id="glc10_2"><rect x="146.50" y="444.80" width="74.10" height="15.33"/></clipPath>
<g clip-path="url(#glc10_2)">
<text x="148.26" y="456.30" font-size="10.60" fill="#c6ecff" stroke="#c6ecff" stroke-width="0.18" textLength="71.58" lengthAdjust="spacingAndGlyphs">N/COBRO N/FRA</text>
</g>
<clipPath id="glc10_3"><rect x="221.20" y="444.80" width="53.00" height="15.33"/></clipPath>
<g clip-path="url(#glc10_3)">
<text x="243.63" y="456.30" font-size="10.60" fill="#111111" stroke="#111111" stroke-width="0.18" textLength="29.02" lengthAdjust="spacingAndGlyphs">612,79</text>
</g>
<g clip-path="url(#glcl)">
<text x="342.38" y="456.30" font-size="10.60" fill="#111111" stroke="#111111" stroke-width="0.18" textLength="26.90" lengthAdjust="spacingAndGlyphs">-1.007</text>
</g>
<rect x="23.80" y="463.13" width="10.00" height="10.00" fill="#ffffff"/>
<path d="M24.30 473.13 L24.30 463.63 L33.80 463.63" fill="none" stroke="#6e6e6e" stroke-width="1"/>
<path d="M25.30 472.13 L25.30 464.63 L32.80 464.63" fill="none" stroke="#b4b4b4" stroke-width="1"/>
<path d="M24.30 472.63 L33.30 472.63 L33.30 463.63" fill="none" stroke="#e8e8e8" stroke-width="1"/>
<clipPath id="glc11_0"><rect x="39.30" y="460.13" width="52.60" height="15.33"/></clipPath>
<g clip-path="url(#glc11_0)">
<text x="41.05" y="471.63" font-size="10.60" fill="#111111" stroke="#111111" stroke-width="0.18" textLength="49.34" lengthAdjust="spacingAndGlyphs">14/10/2014</text>
</g>
<clipPath id="glc11_2"><rect x="146.50" y="460.13" width="74.10" height="15.33"/></clipPath>
<g clip-path="url(#glc11_2)">
<text x="148.26" y="471.63" font-size="10.60" fill="#111111" stroke="#111111" stroke-width="0.18" textLength="91.61" lengthAdjust="spacingAndGlyphs">ENTREGA A CUENTA</text>
</g>
<clipPath id="glc11_3"><rect x="221.20" y="460.13" width="53.00" height="15.33"/></clipPath>
<g clip-path="url(#glc11_3)">
<text x="248.88" y="471.63" font-size="10.60" fill="#111111" stroke="#111111" stroke-width="0.18" textLength="23.74" lengthAdjust="spacingAndGlyphs">71,73</text>
</g>
<g clip-path="url(#glcl)">
<text x="342.38" y="471.63" font-size="10.60" fill="#111111" stroke="#111111" stroke-width="0.18" textLength="26.90" lengthAdjust="spacingAndGlyphs">-1.006</text>
</g>
<rect x="23.80" y="478.46" width="10.00" height="10.00" fill="#ffffff"/>
<path d="M24.30 488.46 L24.30 478.96 L33.80 478.96" fill="none" stroke="#6e6e6e" stroke-width="1"/>
<path d="M25.30 487.46 L25.30 479.96 L32.80 479.96" fill="none" stroke="#b4b4b4" stroke-width="1"/>
<path d="M24.30 487.96 L33.30 487.96 L33.30 478.96" fill="none" stroke="#e8e8e8" stroke-width="1"/>
<clipPath id="glc12_0"><rect x="39.30" y="475.46" width="52.60" height="15.33"/></clipPath>
<g clip-path="url(#glc12_0)">
<text x="41.05" y="486.96" font-size="10.60" fill="#111111" stroke="#111111" stroke-width="0.18" textLength="49.34" lengthAdjust="spacingAndGlyphs">14/10/2014</text>
</g>
<clipPath id="glc12_2"><rect x="146.50" y="475.46" width="74.10" height="15.33"/></clipPath>
<g clip-path="url(#glc12_2)">
<text x="148.26" y="486.96" font-size="10.60" fill="#111111" stroke="#111111" stroke-width="0.18" textLength="91.61" lengthAdjust="spacingAndGlyphs">ENTREGA A CUENTA</text>
</g>
<clipPath id="glc12_3"><rect x="221.20" y="475.46" width="53.00" height="15.33"/></clipPath>
<g clip-path="url(#glc12_3)">
<text x="243.66" y="486.96" font-size="10.60" fill="#111111" stroke="#111111" stroke-width="0.18" textLength="29.02" lengthAdjust="spacingAndGlyphs">130,82</text>
</g>
<g clip-path="url(#glcl)">
<text x="342.38" y="486.96" font-size="10.60" fill="#111111" stroke="#111111" stroke-width="0.18" textLength="26.90" lengthAdjust="spacingAndGlyphs">-1.006</text>
</g>
<rect x="23.80" y="493.79" width="10.00" height="10.00" fill="#ffffff"/>
<path d="M24.30 503.79 L24.30 494.29 L33.80 494.29" fill="none" stroke="#6e6e6e" stroke-width="1"/>
<path d="M25.30 502.79 L25.30 495.29 L32.80 495.29" fill="none" stroke="#b4b4b4" stroke-width="1"/>
<path d="M24.30 503.29 L33.30 503.29 L33.30 494.29" fill="none" stroke="#e8e8e8" stroke-width="1"/>
<clipPath id="glc13_0"><rect x="39.30" y="490.79" width="52.60" height="15.33"/></clipPath>
<g clip-path="url(#glc13_0)">
<text x="41.42" y="502.29" font-size="10.60" fill="#111111" stroke="#111111" stroke-width="0.18" textLength="49.34" lengthAdjust="spacingAndGlyphs">30/11/2014</text>
</g>
<clipPath id="glc13_2"><rect x="146.50" y="490.79" width="74.10" height="15.33"/></clipPath>
<g clip-path="url(#glc13_2)">
<text x="148.26" y="502.29" font-size="10.60" fill="#111111" stroke="#111111" stroke-width="0.18" textLength="69.11" lengthAdjust="spacingAndGlyphs">N/FRA. A14 1 AL</text>
</g>
<clipPath id="glc13_3"><rect x="221.20" y="490.79" width="53.00" height="15.33"/></clipPath>
<g clip-path="url(#glc13_3)">
<text x="243.60" y="502.29" font-size="10.60" fill="#111111" stroke="#111111" stroke-width="0.18" textLength="29.02" lengthAdjust="spacingAndGlyphs">240,28</text>
</g>
<g clip-path="url(#glcl)">
<text x="342.38" y="502.29" font-size="10.60" fill="#111111" stroke="#111111" stroke-width="0.18" textLength="26.90" lengthAdjust="spacingAndGlyphs">-1.006</text>
</g>
<rect x="360.60" y="277.20" width="14.20" height="241.00" fill="#f0f0f0"/>
<path d="M364.80 286.30 L371.80 286.30 L368.30 282.80 Z" fill="#4a4a4a"/>
<path d="M364.80 510.20 L371.80 510.20 L368.30 513.60 Z" fill="#4a4a4a"/>
<rect x="362.30" y="408.70" width="10.80" height="76.80" fill="url(#tg)" stroke="#a2a2a2" stroke-width="1" rx="1.5"/>
<line x1="365.80" y1="445.10" x2="370.80" y2="445.10" stroke="#6a6a6a" stroke-width="0.8"/>
<line x1="365.80" y1="447.10" x2="370.80" y2="447.10" stroke="#6a6a6a" stroke-width="0.8"/>
<line x1="365.80" y1="449.10" x2="370.80" y2="449.10" stroke="#6a6a6a" stroke-width="0.8"/>
<rect x="10.30" y="520.00" width="350.30" height="12.90" fill="#ececec"/>
<rect x="360.60" y="518.20" width="14.20" height="14.70" fill="#f0f0f0"/>
<path d="M18.80 523.30 L18.80 529.30 L15.80 526.30 Z" fill="#4a4a4a"/>
<path d="M352.40 523.30 L352.40 529.30 L355.40 526.30 Z" fill="#4a4a4a"/>
<rect x="25.80" y="521.10" width="11.10" height="10.80" fill="url(#tg2)" stroke="#a2a2a2" stroke-width="1" rx="1.5"/>
<rect x="405.80" y="276.70" width="356.30" height="256.70" fill="#ffffff" stroke="#b6b6b6" stroke-width="1"/>
<rect x="406.30" y="277.20" width="341.50" height="13.40" fill="url(#hg)"/>
<rect x="406.30" y="290.60" width="9.20" height="215.52" fill="#ededed"/>
<rect x="434.50" y="414.14" width="313.30" height="15.33" fill="#d8d8f9"/>
<rect x="434.50" y="444.80" width="313.30" height="15.33" fill="#aedfaa"/>
<line x1="415.50" y1="306.33" x2="747.80" y2="306.33" stroke="#d6d6d6" stroke-width="1"/>
<line x1="415.50" y1="321.66" x2="747.80" y2="321.66" stroke="#d6d6d6" stroke-width="1"/>
<line x1="415.50" y1="336.99" x2="747.80" y2="336.99" stroke="#d6d6d6" stroke-width="1"/>
<line x1="415.50" y1="352.32" x2="747.80" y2="352.32" stroke="#d6d6d6" stroke-width="1"/>
<line x1="415.50" y1="367.65" x2="747.80" y2="367.65" stroke="#d6d6d6" stroke-width="1"/>
<line x1="415.50" y1="382.98" x2="747.80" y2="382.98" stroke="#d6d6d6" stroke-width="1"/>
<line x1="415.50" y1="398.31" x2="747.80" y2="398.31" stroke="#d6d6d6" stroke-width="1"/>
<line x1="415.50" y1="413.64" x2="747.80" y2="413.64" stroke="#d6d6d6" stroke-width="1"/>
<line x1="415.50" y1="428.97" x2="747.80" y2="428.97" stroke="#d6d6d6" stroke-width="1"/>
<line x1="415.50" y1="444.30" x2="747.80" y2="444.30" stroke="#d6d6d6" stroke-width="1"/>
<line x1="415.50" y1="459.63" x2="747.80" y2="459.63" stroke="#d6d6d6" stroke-width="1"/>
<line x1="415.50" y1="474.96" x2="747.80" y2="474.96" stroke="#d6d6d6" stroke-width="1"/>
<line x1="415.50" y1="490.29" x2="747.80" y2="490.29" stroke="#d6d6d6" stroke-width="1"/>
<line x1="415.50" y1="505.62" x2="747.80" y2="505.62" stroke="#d6d6d6" stroke-width="1"/>
<line x1="434.50" y1="291.00" x2="434.50" y2="506.12" stroke="#d6d6d6" stroke-width="1"/>
<line x1="488.30" y1="291.00" x2="488.30" y2="506.12" stroke="#d6d6d6" stroke-width="1"/>
<line x1="541.70" y1="291.00" x2="541.70" y2="506.12" stroke="#d6d6d6" stroke-width="1"/>
<line x1="598.70" y1="291.00" x2="598.70" y2="506.12" stroke="#d6d6d6" stroke-width="1"/>
<line x1="652.50" y1="291.00" x2="652.50" y2="506.12" stroke="#d6d6d6" stroke-width="1"/>
<line x1="706.30" y1="291.00" x2="706.30" y2="506.12" stroke="#d6d6d6" stroke-width="1"/>
<line x1="406.30" y1="306.23" x2="415.50" y2="306.23" stroke="#1a1a1a" stroke-width="1.1"/>
<line x1="406.30" y1="321.56" x2="415.50" y2="321.56" stroke="#1a1a1a" stroke-width="1.1"/>
<line x1="406.30" y1="336.89" x2="415.50" y2="336.89" stroke="#1a1a1a" stroke-width="1.1"/>
<line x1="406.30" y1="352.22" x2="415.50" y2="352.22" stroke="#1a1a1a" stroke-width="1.1"/>
<line x1="406.30" y1="367.55" x2="415.50" y2="367.55" stroke="#1a1a1a" stroke-width="1.1"/>
<line x1="406.30" y1="382.88" x2="415.50" y2="382.88" stroke="#1a1a1a" stroke-width="1.1"/>
<line x1="406.30" y1="398.21" x2="415.50" y2="398.21" stroke="#1a1a1a" stroke-width="1.1"/>
<line x1="406.30" y1="413.54" x2="415.50" y2="413.54" stroke="#1a1a1a" stroke-width="1.1"/>
<line x1="406.30" y1="428.87" x2="415.50" y2="428.87" stroke="#1a1a1a" stroke-width="1.1"/>
<line x1="406.30" y1="444.20" x2="415.50" y2="444.20" stroke="#1a1a1a" stroke-width="1.1"/>
<line x1="406.30" y1="459.53" x2="415.50" y2="459.53" stroke="#1a1a1a" stroke-width="1.1"/>
<line x1="406.30" y1="474.86" x2="415.50" y2="474.86" stroke="#1a1a1a" stroke-width="1.1"/>
<line x1="406.30" y1="490.19" x2="415.50" y2="490.19" stroke="#1a1a1a" stroke-width="1.1"/>
<line x1="406.30" y1="505.52" x2="415.50" y2="505.52" stroke="#1a1a1a" stroke-width="1.1"/>
<line x1="415.50" y1="277.20" x2="415.50" y2="506.12" stroke="#1a1a1a" stroke-width="1.1"/>
<line x1="406.30" y1="291.20" x2="747.80" y2="291.20" stroke="#1a1a1a" stroke-width="1.1"/>
<line x1="747.30" y1="277.70" x2="747.30" y2="290.60" stroke="#c4c4c4" stroke-width="1"/>
<line x1="433.50" y1="277.70" x2="433.50" y2="290.30" stroke="#cfcfcf" stroke-width="1"/>
<line x1="434.50" y1="277.70" x2="434.50" y2="290.30" stroke="#3a3a3a" stroke-width="1"/>
<line x1="487.30" y1="277.70" x2="487.30" y2="290.30" stroke="#cfcfcf" stroke-width="1"/>
<line x1="488.30" y1="277.70" x2="488.30" y2="290.30" stroke="#3a3a3a" stroke-width="1"/>
<line x1="540.70" y1="277.70" x2="540.70" y2="290.30" stroke="#cfcfcf" stroke-width="1"/>
<line x1="541.70" y1="277.70" x2="541.70" y2="290.30" stroke="#3a3a3a" stroke-width="1"/>
<line x1="597.70" y1="277.70" x2="597.70" y2="290.30" stroke="#cfcfcf" stroke-width="1"/>
<line x1="598.70" y1="277.70" x2="598.70" y2="290.30" stroke="#3a3a3a" stroke-width="1"/>
<line x1="651.50" y1="277.70" x2="651.50" y2="290.30" stroke="#cfcfcf" stroke-width="1"/>
<line x1="652.50" y1="277.70" x2="652.50" y2="290.30" stroke="#3a3a3a" stroke-width="1"/>
<line x1="705.30" y1="277.70" x2="705.30" y2="290.30" stroke="#cfcfcf" stroke-width="1"/>
<line x1="706.30" y1="277.70" x2="706.30" y2="290.30" stroke="#3a3a3a" stroke-width="1"/>
<text x="416.64" y="287.80" font-size="10.00" fill="#111111" stroke="#111111" stroke-width="0.18" textLength="16.51" lengthAdjust="spacingAndGlyphs">Con</text>
<text x="435.36" y="287.80" font-size="10.00" fill="#111111" stroke="#111111" stroke-width="0.18" textLength="25.01" lengthAdjust="spacingAndGlyphs">Fecha</text>
<text x="489.16" y="287.80" font-size="10.00" fill="#111111" stroke="#111111" stroke-width="0.18" textLength="48.52" lengthAdjust="spacingAndGlyphs">Fecha Valor</text>
<text x="542.84" y="287.80" font-size="10.00" fill="#111111" stroke="#111111" stroke-width="0.18" textLength="38.53" lengthAdjust="spacingAndGlyphs">Concepto</text>
<text x="599.56" y="287.80" font-size="10.00" fill="#111111" stroke="#111111" stroke-width="0.18" textLength="21.52" lengthAdjust="spacingAndGlyphs">Debe</text>
<text x="653.36" y="287.80" font-size="10.00" fill="#111111" stroke="#111111" stroke-width="0.18" textLength="24.51" lengthAdjust="spacingAndGlyphs">Haber</text>
<text x="707.49" y="287.80" font-size="10.00" fill="#111111" stroke="#111111" stroke-width="0.18" textLength="23.02" lengthAdjust="spacingAndGlyphs">Saldo</text>
<path d="M407.90 448.40 L413.70 452.90 L407.90 457.40 Z" fill="#000"/>
<clipPath id="grcl"><rect x="405.3" y="276.2" width="342.50" height="257.7"/></clipPath>
<rect x="420.00" y="294.50" width="10.00" height="10.00" fill="#ffffff"/>
<path d="M420.50 304.50 L420.50 295.00 L430.00 295.00" fill="none" stroke="#6e6e6e" stroke-width="1"/>
<path d="M421.50 303.50 L421.50 296.00 L429.00 296.00" fill="none" stroke="#b4b4b4" stroke-width="1"/>
<path d="M420.50 304.00 L429.50 304.00 L429.50 295.00" fill="none" stroke="#e8e8e8" stroke-width="1"/>
<clipPath id="grc0_0"><rect x="434.50" y="291.50" width="53.20" height="15.33"/></clipPath>
<g clip-path="url(#grc0_0)">
<text x="436.61" y="303.00" font-size="10.60" fill="#111111" stroke="#111111" stroke-width="0.18" textLength="49.34" lengthAdjust="spacingAndGlyphs">06/10/2014</text>
</g>
<clipPath id="grc0_1"><rect x="488.30" y="291.50" width="52.80" height="15.33"/></clipPath>
<g clip-path="url(#grc0_1)">
<text x="490.41" y="303.00" font-size="10.60" fill="#111111" stroke="#111111" stroke-width="0.18" textLength="49.34" lengthAdjust="spacingAndGlyphs">02/09/2014</text>
</g>
<clipPath id="grc0_2"><rect x="541.70" y="291.50" width="56.40" height="15.33"/></clipPath>
<g clip-path="url(#grc0_2)">
<text x="543.46" y="303.00" font-size="10.60" fill="#111111" stroke="#111111" stroke-width="0.18" textLength="93.61" lengthAdjust="spacingAndGlyphs">RECIBO SUMINISTRO</text>
</g>
<clipPath id="grc0_4"><rect x="652.50" y="291.50" width="53.20" height="15.33"/></clipPath>
<g clip-path="url(#grc0_4)">
<text x="685.70" y="303.00" font-size="10.60" fill="#111111" stroke="#111111" stroke-width="0.18" textLength="18.46" lengthAdjust="spacingAndGlyphs">0,21</text>
</g>
<g clip-path="url(#grcl)">
<text x="735.58" y="303.00" font-size="10.60" fill="#111111" stroke="#111111" stroke-width="0.18" textLength="13.19" lengthAdjust="spacingAndGlyphs">18.</text>
</g>
<rect x="420.00" y="309.83" width="10.00" height="10.00" fill="#ffffff"/>
<path d="M420.50 319.83 L420.50 310.33 L430.00 310.33" fill="none" stroke="#6e6e6e" stroke-width="1"/>
<path d="M421.50 318.83 L421.50 311.33 L429.00 311.33" fill="none" stroke="#b4b4b4" stroke-width="1"/>
<path d="M420.50 319.33 L429.50 319.33 L429.50 310.33" fill="none" stroke="#e8e8e8" stroke-width="1"/>
<clipPath id="grc1_0"><rect x="434.50" y="306.83" width="53.20" height="15.33"/></clipPath>
<g clip-path="url(#grc1_0)">
<text x="436.61" y="318.33" font-size="10.60" fill="#111111" stroke="#111111" stroke-width="0.18" textLength="49.34" lengthAdjust="spacingAndGlyphs">02/10/2014</text>
</g>
<clipPath id="grc1_1"><rect x="488.30" y="306.83" width="52.80" height="15.33"/></clipPath>
<g clip-path="url(#grc1_1)">
<text x="490.41" y="318.33" font-size="10.60" fill="#111111" stroke="#111111" stroke-width="0.18" textLength="49.34" lengthAdjust="spacingAndGlyphs">02/10/2014</text>
</g>
<clipPath id="grc1_2"><rect x="541.70" y="306.83" width="56.40" height="15.33"/></clipPath>
<g clip-path="url(#grc1_2)">
<text x="543.46" y="318.33" font-size="10.60" fill="#111111" stroke="#111111" stroke-width="0.18" textLength="71.09" lengthAdjust="spacingAndGlyphs">PAGO FACTURA</text>
</g>
<clipPath id="grc1_4"><rect x="652.50" y="306.83" width="53.20" height="15.33"/></clipPath>
<g clip-path="url(#grc1_4)">
<text x="685.65" y="318.33" font-size="10.60" fill="#111111" stroke="#111111" stroke-width="0.18" textLength="18.46" lengthAdjust="spacingAndGlyphs">0,78</text>
</g>
<g clip-path="url(#grcl)">
<text x="735.58" y="318.33" font-size="10.60" fill="#111111" stroke="#111111" stroke-width="0.18" textLength="13.19" lengthAdjust="spacingAndGlyphs">15.</text>
</g>
<rect x="420.00" y="325.16" width="10.00" height="10.00" fill="#ffffff"/>
<path d="M420.50 335.16 L420.50 325.66 L430.00 325.66" fill="none" stroke="#6e6e6e" stroke-width="1"/>
<path d="M421.50 334.16 L421.50 326.66 L429.00 326.66" fill="none" stroke="#b4b4b4" stroke-width="1"/>
<path d="M420.50 334.66 L429.50 334.66 L429.50 325.66" fill="none" stroke="#e8e8e8" stroke-width="1"/>
<clipPath id="grc2_0"><rect x="434.50" y="322.16" width="53.20" height="15.33"/></clipPath>
<g clip-path="url(#grc2_0)">
<text x="436.61" y="333.66" font-size="10.60" fill="#111111" stroke="#111111" stroke-width="0.18" textLength="49.34" lengthAdjust="spacingAndGlyphs">03/10/2014</text>
</g>
<clipPath id="grc2_1"><rect x="488.30" y="322.16" width="52.80" height="15.33"/></clipPath>
<g clip-path="url(#grc2_1)">
<text x="490.41" y="333.66" font-size="10.60" fill="#111111" stroke="#111111" stroke-width="0.18" textLength="49.34" lengthAdjust="spacingAndGlyphs">03/10/2014</text>
</g>
<clipPath id="grc2_2"><rect x="541.70" y="322.16" width="56.40" height="15.33"/></clipPath>
<g clip-path="url(#grc2_2)">
<text x="544.18" y="333.66" font-size="10.60" fill="#111111" stroke="#111111" stroke-width="0.18" textLength="59.59" lengthAdjust="spacingAndGlyphs">ALQUILER DE</text>
</g>
<clipPath id="grc2_4"><rect x="652.50" y="322.16" width="53.20" height="15.33"/></clipPath>
<g clip-path="url(#grc2_4)">
<text x="685.71" y="333.66" font-size="10.60" fill="#111111" stroke="#111111" stroke-width="0.18" textLength="18.46" lengthAdjust="spacingAndGlyphs">0,87</text>
</g>
<g clip-path="url(#grcl)">
<text x="735.58" y="333.66" font-size="10.60" fill="#111111" stroke="#111111" stroke-width="0.18" textLength="13.19" lengthAdjust="spacingAndGlyphs">15.</text>
</g>
<rect x="420.00" y="340.49" width="10.00" height="10.00" fill="#ffffff"/>
<path d="M420.50 350.49 L420.50 340.99 L430.00 340.99" fill="none" stroke="#6e6e6e" stroke-width="1"/>
<path d="M421.50 349.49 L421.50 341.99 L429.00 341.99" fill="none" stroke="#b4b4b4" stroke-width="1"/>
<path d="M420.50 349.99 L429.50 349.99 L429.50 340.99" fill="none" stroke="#e8e8e8" stroke-width="1"/>
<clipPath id="grc3_0"><rect x="434.50" y="337.49" width="53.20" height="15.33"/></clipPath>
<g clip-path="url(#grc3_0)">
<text x="436.61" y="348.99" font-size="10.60" fill="#111111" stroke="#111111" stroke-width="0.18" textLength="49.34" lengthAdjust="spacingAndGlyphs">06/10/2014</text>
</g>
<clipPath id="grc3_1"><rect x="488.30" y="337.49" width="52.80" height="15.33"/></clipPath>
<g clip-path="url(#grc3_1)">
<text x="490.41" y="348.99" font-size="10.60" fill="#111111" stroke="#111111" stroke-width="0.18" textLength="49.34" lengthAdjust="spacingAndGlyphs">02/09/2014</text>
</g>
<clipPath id="grc3_2"><rect x="541.70" y="337.49" width="56.40" height="15.33"/></clipPath>
<g clip-path="url(#grc3_2)">
<text x="543.74" y="348.99" font-size="10.60" fill="#111111" stroke="#111111" stroke-width="0.18" textLength="57.57" lengthAdjust="spacingAndGlyphs">COMISIONES</text>
</g>
<clipPath id="grc3_4"><rect x="652.50" y="337.49" width="53.20" height="15.33"/></clipPath>
<g clip-path="url(#grc3_4)">
<text x="685.61" y="348.99" font-size="10.60" fill="#111111" stroke="#111111" stroke-width="0.18" textLength="18.46" lengthAdjust="spacingAndGlyphs">1,00</text>
</g>
<g clip-path="url(#grcl)">
<text x="735.58" y="348.99" font-size="10.60" fill="#111111" stroke="#111111" stroke-width="0.18" textLength="13.19" lengthAdjust="spacingAndGlyphs">18.</text>
</g>
<rect x="420.00" y="355.82" width="10.00" height="10.00" fill="#ffffff"/>
<path d="M420.50 365.82 L420.50 356.32 L430.00 356.32" fill="none" stroke="#6e6e6e" stroke-width="1"/>
<path d="M421.50 364.82 L421.50 357.32 L429.00 357.32" fill="none" stroke="#b4b4b4" stroke-width="1"/>
<path d="M420.50 365.32 L429.50 365.32 L429.50 356.32" fill="none" stroke="#e8e8e8" stroke-width="1"/>
<clipPath id="grc4_0"><rect x="434.50" y="352.82" width="53.20" height="15.33"/></clipPath>
<g clip-path="url(#grc4_0)">
<text x="436.61" y="364.32" font-size="10.60" fill="#111111" stroke="#111111" stroke-width="0.18" textLength="49.34" lengthAdjust="spacingAndGlyphs">06/10/2014</text>
</g>
<clipPath id="grc4_1"><rect x="488.30" y="352.82" width="52.80" height="15.33"/></clipPath>
<g clip-path="url(#grc4_1)">
<text x="490.41" y="364.32" font-size="10.60" fill="#111111" stroke="#111111" stroke-width="0.18" textLength="49.34" lengthAdjust="spacingAndGlyphs">06/10/2014</text>
</g>
<clipPath id="grc4_2"><rect x="541.70" y="352.82" width="56.40" height="15.33"/></clipPath>
<g clip-path="url(#grc4_2)">
<text x="543.75" y="364.32" font-size="10.60" fill="#111111" stroke="#111111" stroke-width="0.18" textLength="65.08" lengthAdjust="spacingAndGlyphs">GASTOS DESC</text>
</g>
<clipPath id="grc4_4"><rect x="652.50" y="352.82" width="53.20" height="15.33"/></clipPath>
<g clip-path="url(#grc4_4)">
<text x="685.71" y="364.32" font-size="10.60" fill="#111111" stroke="#111111" stroke-width="0.18" textLength="18.46" lengthAdjust="spacingAndGlyphs">2,42</text>
</g>
<g clip-path="url(#grcl)">
<text x="735.58" y="364.32" font-size="10.60" fill="#111111" stroke="#111111" stroke-width="0.18" textLength="13.19" lengthAdjust="spacingAndGlyphs">17.</text>
</g>
<rect x="420.00" y="371.15" width="10.00" height="10.00" fill="#ffffff"/>
<path d="M420.50 381.15 L420.50 371.65 L430.00 371.65" fill="none" stroke="#6e6e6e" stroke-width="1"/>
<path d="M421.50 380.15 L421.50 372.65 L429.00 372.65" fill="none" stroke="#b4b4b4" stroke-width="1"/>
<path d="M420.50 380.65 L429.50 380.65 L429.50 371.65" fill="none" stroke="#e8e8e8" stroke-width="1"/>
<clipPath id="grc5_0"><rect x="434.50" y="368.15" width="53.20" height="15.33"/></clipPath>
<g clip-path="url(#grc5_0)">
<text x="436.25" y="379.65" font-size="10.60" fill="#111111" stroke="#111111" stroke-width="0.18" textLength="49.34" lengthAdjust="spacingAndGlyphs">10/10/2014</text>
</g>
<clipPath id="grc5_1"><rect x="488.30" y="368.15" width="52.80" height="15.33"/></clipPath>
<g clip-path="url(#grc5_1)">
<text x="490.05" y="379.65" font-size="10.60" fill="#111111" stroke="#111111" stroke-width="0.18" textLength="49.34" lengthAdjust="spacingAndGlyphs">10/10/2014</text>
</g>
<clipPath id="grc5_2"><rect x="541.70" y="368.15" width="56.40" height="15.33"/></clipPath>
<g clip-path="url(#grc5_2)">
<text x="543.74" y="379.65" font-size="10.60" fill="#111111" stroke="#111111" stroke-width="0.18" textLength="70.09" lengthAdjust="spacingAndGlyphs">CARGO RECIBO</text>
</g>
<clipPath id="grc5_4"><rect x="652.50" y="368.15" width="53.20" height="15.33"/></clipPath>
<g clip-path="url(#grc5_4)">
<text x="680.36" y="379.65" font-size="10.60" fill="#111111" stroke="#111111" stroke-width="0.18" textLength="23.74" lengthAdjust="spacingAndGlyphs">11,85</text>
</g>
<g clip-path="url(#grcl)">
<text x="735.58" y="379.65" font-size="10.60" fill="#111111" stroke="#111111" stroke-width="0.18" textLength="13.19" lengthAdjust="spacingAndGlyphs">17.</text>
</g>
<rect x="420.00" y="386.48" width="10.00" height="10.00" fill="#ffffff"/>
<path d="M420.50 396.48 L420.50 386.98 L430.00 386.98" fill="none" stroke="#6e6e6e" stroke-width="1"/>
<path d="M421.50 395.48 L421.50 387.98 L429.00 387.98" fill="none" stroke="#b4b4b4" stroke-width="1"/>
<path d="M420.50 395.98 L429.50 395.98 L429.50 386.98" fill="none" stroke="#e8e8e8" stroke-width="1"/>
<clipPath id="grc6_0"><rect x="434.50" y="383.48" width="53.20" height="15.33"/></clipPath>
<g clip-path="url(#grc6_0)">
<text x="436.61" y="394.98" font-size="10.60" fill="#111111" stroke="#111111" stroke-width="0.18" textLength="49.34" lengthAdjust="spacingAndGlyphs">03/10/2014</text>
</g>
<clipPath id="grc6_1"><rect x="488.30" y="383.48" width="52.80" height="15.33"/></clipPath>
<g clip-path="url(#grc6_1)">
<text x="490.41" y="394.98" font-size="10.60" fill="#111111" stroke="#111111" stroke-width="0.18" textLength="49.34" lengthAdjust="spacingAndGlyphs">03/10/2014</text>
</g>
<clipPath id="grc6_2"><rect x="541.70" y="383.48" width="56.40" height="15.33"/></clipPath>
<g clip-path="url(#grc6_2)">
<text x="543.74" y="394.98" font-size="10.60" fill="#111111" stroke="#111111" stroke-width="0.18" textLength="70.09" lengthAdjust="spacingAndGlyphs">CARGO RECIBO</text>
</g>
<clipPath id="grc6_4"><rect x="652.50" y="383.48" width="53.20" height="15.33"/></clipPath>
<g clip-path="url(#grc6_4)">
<text x="675.05" y="394.98" font-size="10.60" fill="#111111" stroke="#111111" stroke-width="0.18" textLength="29.02" lengthAdjust="spacingAndGlyphs">100,70</text>
</g>
<g clip-path="url(#grcl)">
<text x="735.58" y="394.98" font-size="10.60" fill="#111111" stroke="#111111" stroke-width="0.18" textLength="13.19" lengthAdjust="spacingAndGlyphs">15.</text>
</g>
<rect x="420.00" y="401.81" width="10.00" height="10.00" fill="#ffffff"/>
<path d="M420.50 411.81 L420.50 402.31 L430.00 402.31" fill="none" stroke="#6e6e6e" stroke-width="1"/>
<path d="M421.50 410.81 L421.50 403.31 L429.00 403.31" fill="none" stroke="#b4b4b4" stroke-width="1"/>
<path d="M420.50 411.31 L429.50 411.31 L429.50 402.31" fill="none" stroke="#e8e8e8" stroke-width="1"/>
<clipPath id="grc7_0"><rect x="434.50" y="398.81" width="53.20" height="15.33"/></clipPath>
<g clip-path="url(#grc7_0)">
<text x="436.61" y="410.31" font-size="10.60" fill="#111111" stroke="#111111" stroke-width="0.18" textLength="49.34" lengthAdjust="spacingAndGlyphs">06/10/2014</text>
</g>
<clipPath id="grc7_1"><rect x="488.30" y="398.81" width="52.80" height="15.33"/></clipPath>
<g clip-path="url(#grc7_1)">
<text x="490.41" y="410.31" font-size="10.60" fill="#111111" stroke="#111111" stroke-width="0.18" textLength="49.34" lengthAdjust="spacingAndGlyphs">02/09/2014</text>
</g>
<clipPath id="grc7_2"><rect x="541.70" y="398.81" width="56.40" height="15.33"/></clipPath>
<g clip-path="url(#grc7_2)">
<text x="543.37" y="410.31" font-size="10.60" fill="#111111" stroke="#111111" stroke-width="0.18" textLength="78.10" lengthAdjust="spacingAndGlyphs">IMP DEVOLUCION</text>
</g>
<clipPath id="grc7_4"><rect x="652.50" y="398.81" width="53.20" height="15.33"/></clipPath>
<g clip-path="url(#grc7_4)">
<text x="675.05" y="410.31" font-size="10.60" fill="#111111" stroke="#111111" stroke-width="0.18" textLength="29.02" lengthAdjust="spacingAndGlyphs">170,00</text>
</g>
<g clip-path="url(#grcl)">
<text x="735.58" y="410.31" font-size="10.60" fill="#111111" stroke="#111111" stroke-width="0.18" textLength="13.19" lengthAdjust="spacingAndGlyphs">18.</text>
</g>
<rect x="420.00" y="417.14" width="10.00" height="10.00" fill="#ffffff"/>
<path d="M420.50 427.14 L420.50 417.64 L430.00 417.64" fill="none" stroke="#6e6e6e" stroke-width="1"/>
<path d="M421.50 426.14 L421.50 418.64 L429.00 418.64" fill="none" stroke="#b4b4b4" stroke-width="1"/>
<path d="M420.50 426.64 L429.50 426.64 L429.50 417.64" fill="none" stroke="#e8e8e8" stroke-width="1"/>
<path d="M422.40 421.74 L424.20 423.94 L428.00 419.54" fill="none" stroke="#111" stroke-width="1.6"/>
<clipPath id="grc8_0"><rect x="434.50" y="414.14" width="53.20" height="15.33"/></clipPath>
<g clip-path="url(#grc8_0)">
<text x="436.61" y="425.64" font-size="10.60" fill="#151538" stroke="#151538" stroke-width="0.18" textLength="49.34" lengthAdjust="spacingAndGlyphs">02/10/2014</text>
</g>
<clipPath id="grc8_1"><rect x="488.30" y="414.14" width="52.80" height="15.33"/></clipPath>
<g clip-path="url(#grc8_1)">
<text x="490.41" y="425.64" font-size="10.60" fill="#151538" stroke="#151538" stroke-width="0.18" textLength="49.34" lengthAdjust="spacingAndGlyphs">02/10/2014</text>
</g>
<clipPath id="grc8_2"><rect x="541.70" y="414.14" width="56.40" height="15.33"/></clipPath>
<g clip-path="url(#grc8_2)">
<text x="543.37" y="425.64" font-size="10.60" fill="#151538" stroke="#151538" stroke-width="0.18" textLength="55.57" lengthAdjust="spacingAndGlyphs">INGRESO PF</text>
</g>
<clipPath id="grc8_3"><rect x="598.70" y="414.14" width="53.20" height="15.33"/></clipPath>
<g clip-path="url(#grc8_3)">
<text x="621.25" y="425.64" font-size="10.60" fill="#151538" stroke="#151538" stroke-width="0.18" textLength="29.02" lengthAdjust="spacingAndGlyphs">205,70</text>
</g>
<g clip-path="url(#grcl)">
<text x="735.58" y="425.64" font-size="10.60" fill="#151538" stroke="#151538" stroke-width="0.18" textLength="13.19" lengthAdjust="spacingAndGlyphs">15.</text>
</g>
<rect x="420.00" y="432.47" width="10.00" height="10.00" fill="#ffffff"/>
<path d="M420.50 442.47 L420.50 432.97 L430.00 432.97" fill="none" stroke="#6e6e6e" stroke-width="1"/>
<path d="M421.50 441.47 L421.50 433.97 L429.00 433.97" fill="none" stroke="#b4b4b4" stroke-width="1"/>
<path d="M420.50 441.97 L429.50 441.97 L429.50 432.97" fill="none" stroke="#e8e8e8" stroke-width="1"/>
<clipPath id="grc9_0"><rect x="434.50" y="429.47" width="53.20" height="15.33"/></clipPath>
<g clip-path="url(#grc9_0)">
<text x="436.61" y="440.97" font-size="10.60" fill="#111111" stroke="#111111" stroke-width="0.18" textLength="49.34" lengthAdjust="spacingAndGlyphs">07/10/2014</text>
</g>
<clipPath id="grc9_1"><rect x="488.30" y="429.47" width="52.80" height="15.33"/></clipPath>
<g clip-path="url(#grc9_1)">
<text x="490.41" y="440.97" font-size="10.60" fill="#111111" stroke="#111111" stroke-width="0.18" textLength="49.34" lengthAdjust="spacingAndGlyphs">07/10/2014</text>
</g>
<clipPath id="grc9_2"><rect x="541.70" y="429.47" width="56.40" height="15.33"/></clipPath>
<g clip-path="url(#grc9_2)">
<text x="543.74" y="440.97" font-size="10.60" fill="#111111" stroke="#111111" stroke-width="0.18" textLength="70.09" lengthAdjust="spacingAndGlyphs">CARGO RECIBO</text>
</g>
<clipPath id="grc9_4"><rect x="652.50" y="429.47" width="53.20" height="15.33"/></clipPath>
<g clip-path="url(#grc9_4)">
<text x="675.16" y="440.97" font-size="10.60" fill="#111111" stroke="#111111" stroke-width="0.18" textLength="29.02" lengthAdjust="spacingAndGlyphs">247,82</text>
</g>
<g clip-path="url(#grcl)">
<text x="735.58" y="440.97" font-size="10.60" fill="#111111" stroke="#111111" stroke-width="0.18" textLength="13.19" lengthAdjust="spacingAndGlyphs">17.</text>
</g>
<rect x="420.00" y="447.80" width="10.00" height="10.00" fill="#ffffff"/>
<path d="M420.50 457.80 L420.50 448.30 L430.00 448.30" fill="none" stroke="#6e6e6e" stroke-width="1"/>
<path d="M421.50 456.80 L421.50 449.30 L429.00 449.30" fill="none" stroke="#b4b4b4" stroke-width="1"/>
<path d="M420.50 457.30 L429.50 457.30 L429.50 448.30" fill="none" stroke="#e8e8e8" stroke-width="1"/>
<clipPath id="grc10_0"><rect x="434.50" y="444.80" width="53.20" height="15.33"/></clipPath>
<g clip-path="url(#grc10_0)">
<text x="436.61" y="456.30" font-size="10.60" fill="#0f2a0f" stroke="#0f2a0f" stroke-width="0.18" textLength="49.34" lengthAdjust="spacingAndGlyphs">09/10/2014</text>
</g>
<clipPath id="grc10_1"><rect x="488.30" y="444.80" width="52.80" height="15.33"/></clipPath>
<g clip-path="url(#grc10_1)">
<text x="490.41" y="456.30" font-size="10.60" fill="#0f2a0f" stroke="#0f2a0f" stroke-width="0.18" textLength="49.34" lengthAdjust="spacingAndGlyphs">09/10/2014</text>
</g>
<clipPath id="grc10_2"><rect x="541.70" y="444.80" width="56.40" height="15.33"/></clipPath>
<g clip-path="url(#grc10_2)">
<text x="544.00" y="456.30" font-size="10.60" fill="#0f2a0f" stroke="#0f2a0f" stroke-width="0.18" textLength="76.09" lengthAdjust="spacingAndGlyphs">TRANSFERENCIA</text>
</g>
<clipPath id="grc10_3"><rect x="598.70" y="444.80" width="53.20" height="15.33"/></clipPath>
<g clip-path="url(#grc10_3)">
<text x="621.33" y="456.30" font-size="10.60" fill="#0f2a0f" stroke="#0f2a0f" stroke-width="0.18" textLength="29.02" lengthAdjust="spacingAndGlyphs">612,79</text>
</g>
<g clip-path="url(#grcl)">
<text x="735.58" y="456.30" font-size="10.60" fill="#0f2a0f" stroke="#0f2a0f" stroke-width="0.18" textLength="13.19" lengthAdjust="spacingAndGlyphs">17.</text>
</g>
<rect x="420.00" y="463.13" width="10.00" height="10.00" fill="#ffffff"/>
<path d="M420.50 473.13 L420.50 463.63 L430.00 463.63" fill="none" stroke="#6e6e6e" stroke-width="1"/>
<path d="M421.50 472.13 L421.50 464.63 L429.00 464.63" fill="none" stroke="#b4b4b4" stroke-width="1"/>
<path d="M420.50 472.63 L429.50 472.63 L429.50 463.63" fill="none" stroke="#e8e8e8" stroke-width="1"/>
<clipPath id="grc11_0"><rect x="434.50" y="460.13" width="53.20" height="15.33"/></clipPath>
<g clip-path="url(#grc11_0)">
<text x="436.61" y="471.63" font-size="10.60" fill="#111111" stroke="#111111" stroke-width="0.18" textLength="49.34" lengthAdjust="spacingAndGlyphs">06/10/2014</text>
</g>
<clipPath id="grc11_1"><rect x="488.30" y="460.13" width="52.80" height="15.33"/></clipPath>
<g clip-path="url(#grc11_1)">
<text x="490.41" y="471.63" font-size="10.60" fill="#111111" stroke="#111111" stroke-width="0.18" textLength="49.34" lengthAdjust="spacingAndGlyphs">06/10/2014</text>
</g>
<clipPath id="grc11_2"><rect x="541.70" y="460.13" width="56.40" height="15.33"/></clipPath>
<g clip-path="url(#grc11_2)">
<text x="543.74" y="471.63" font-size="10.60" fill="#111111" stroke="#111111" stroke-width="0.18" textLength="58.08" lengthAdjust="spacingAndGlyphs">COMISION 00</text>
</g>
<clipPath id="grc11_4"><rect x="652.50" y="460.13" width="53.20" height="15.33"/></clipPath>
<g clip-path="url(#grc11_4)">
<text x="667.22" y="471.63" font-size="10.60" fill="#111111" stroke="#111111" stroke-width="0.18" textLength="36.93" lengthAdjust="spacingAndGlyphs">1.075,69</text>
</g>
<g clip-path="url(#grcl)">
<text x="735.58" y="471.63" font-size="10.60" fill="#111111" stroke="#111111" stroke-width="0.18" textLength="13.19" lengthAdjust="spacingAndGlyphs">17.</text>
</g>
<rect x="420.00" y="478.46" width="10.00" height="10.00" fill="#ffffff"/>
<path d="M420.50 488.46 L420.50 478.96 L430.00 478.96" fill="none" stroke="#6e6e6e" stroke-width="1"/>
<path d="M421.50 487.46 L421.50 479.96 L429.00 479.96" fill="none" stroke="#b4b4b4" stroke-width="1"/>
<path d="M420.50 487.96 L429.50 487.96 L429.50 478.96" fill="none" stroke="#e8e8e8" stroke-width="1"/>
<clipPath id="grc12_0"><rect x="434.50" y="475.46" width="53.20" height="15.33"/></clipPath>
<g clip-path="url(#grc12_0)">
<text x="436.61" y="486.96" font-size="10.60" fill="#111111" stroke="#111111" stroke-width="0.18" textLength="49.34" lengthAdjust="spacingAndGlyphs">03/10/2014</text>
</g>
<clipPath id="grc12_1"><rect x="488.30" y="475.46" width="52.80" height="15.33"/></clipPath>
<g clip-path="url(#grc12_1)">
<text x="490.41" y="486.96" font-size="10.60" fill="#111111" stroke="#111111" stroke-width="0.18" textLength="49.34" lengthAdjust="spacingAndGlyphs">03/10/2014</text>
</g>
<clipPath id="grc12_2"><rect x="541.70" y="475.46" width="56.40" height="15.33"/></clipPath>
<g clip-path="url(#grc12_2)">
<text x="543.46" y="486.96" font-size="10.60" fill="#111111" stroke="#111111" stroke-width="0.18" textLength="71.09" lengthAdjust="spacingAndGlyphs">PAGO FACTURA</text>
</g>
<clipPath id="grc12_3"><rect x="598.70" y="475.46" width="53.20" height="15.33"/></clipPath>
<g clip-path="url(#grc12_3)">
<text x="613.45" y="486.96" font-size="10.60" fill="#111111" stroke="#111111" stroke-width="0.18" textLength="36.93" lengthAdjust="spacingAndGlyphs">2.981,62</text>
</g>
<g clip-path="url(#grcl)">
<text x="735.58" y="486.96" font-size="10.60" fill="#111111" stroke="#111111" stroke-width="0.18" textLength="13.19" lengthAdjust="spacingAndGlyphs">18.</text>
</g>
<rect x="420.00" y="493.79" width="10.00" height="10.00" fill="#ffffff"/>
<path d="M420.50 503.79 L420.50 494.29 L430.00 494.29" fill="none" stroke="#6e6e6e" stroke-width="1"/>
<path d="M421.50 502.79 L421.50 495.29 L429.00 495.29" fill="none" stroke="#b4b4b4" stroke-width="1"/>
<path d="M420.50 503.29 L429.50 503.29 L429.50 494.29" fill="none" stroke="#e8e8e8" stroke-width="1"/>
<clipPath id="grc13_0"><rect x="434.50" y="490.79" width="53.20" height="15.33"/></clipPath>
<g clip-path="url(#grc13_0)">
<text x="436.61" y="502.29" font-size="10.60" fill="#111111" stroke="#111111" stroke-width="0.18" textLength="49.34" lengthAdjust="spacingAndGlyphs">02/10/2014</text>
</g>
<clipPath id="grc13_1"><rect x="488.30" y="490.79" width="52.80" height="15.33"/></clipPath>
<g clip-path="url(#grc13_1)">
<text x="490.41" y="502.29" font-size="10.60" fill="#111111" stroke="#111111" stroke-width="0.18" textLength="49.34" lengthAdjust="spacingAndGlyphs">02/10/2014</text>
</g>
<clipPath id="grc13_2"><rect x="541.70" y="490.79" width="56.40" height="15.33"/></clipPath>
<g clip-path="url(#grc13_2)">
<text x="544.00" y="502.29" font-size="10.60" fill="#111111" stroke="#111111" stroke-width="0.18" textLength="76.09" lengthAdjust="spacingAndGlyphs">TRANSFERENCIA</text>
</g>
<clipPath id="grc13_3"><rect x="598.70" y="490.79" width="53.20" height="15.33"/></clipPath>
<g clip-path="url(#grc13_3)">
<text x="613.43" y="502.29" font-size="10.60" fill="#111111" stroke="#111111" stroke-width="0.18" textLength="36.93" lengthAdjust="spacingAndGlyphs">3.714,91</text>
</g>
<g clip-path="url(#grcl)">
<text x="735.58" y="502.29" font-size="10.60" fill="#111111" stroke="#111111" stroke-width="0.18" textLength="13.19" lengthAdjust="spacingAndGlyphs">15.</text>
</g>
<rect x="747.80" y="277.20" width="13.80" height="241.00" fill="#f0f0f0"/>
<path d="M751.80 286.30 L758.80 286.30 L755.30 282.80 Z" fill="#4a4a4a"/>
<path d="M751.80 510.20 L758.80 510.20 L755.30 513.60 Z" fill="#4a4a4a"/>
<rect x="749.50" y="381.00" width="10.40" height="99.50" fill="url(#tg)" stroke="#a2a2a2" stroke-width="1" rx="1.5"/>
<line x1="752.80" y1="428.75" x2="757.80" y2="428.75" stroke="#6a6a6a" stroke-width="0.8"/>
<line x1="752.80" y1="430.75" x2="757.80" y2="430.75" stroke="#6a6a6a" stroke-width="0.8"/>
<line x1="752.80" y1="432.75" x2="757.80" y2="432.75" stroke="#6a6a6a" stroke-width="0.8"/>
<rect x="406.30" y="520.00" width="341.50" height="12.90" fill="#ececec"/>
<rect x="747.80" y="518.20" width="13.80" height="14.70" fill="#f0f0f0"/>
<path d="M414.80 523.30 L414.80 529.30 L411.80 526.30 Z" fill="#4a4a4a"/>
<path d="M739.60 523.30 L739.60 529.30 L742.60 526.30 Z" fill="#4a4a4a"/>
<rect x="421.50" y="521.10" width="11.00" height="10.80" fill="url(#tg2)" stroke="#a2a2a2" stroke-width="1" rx="1.5"/>
</svg>
</body></html>
